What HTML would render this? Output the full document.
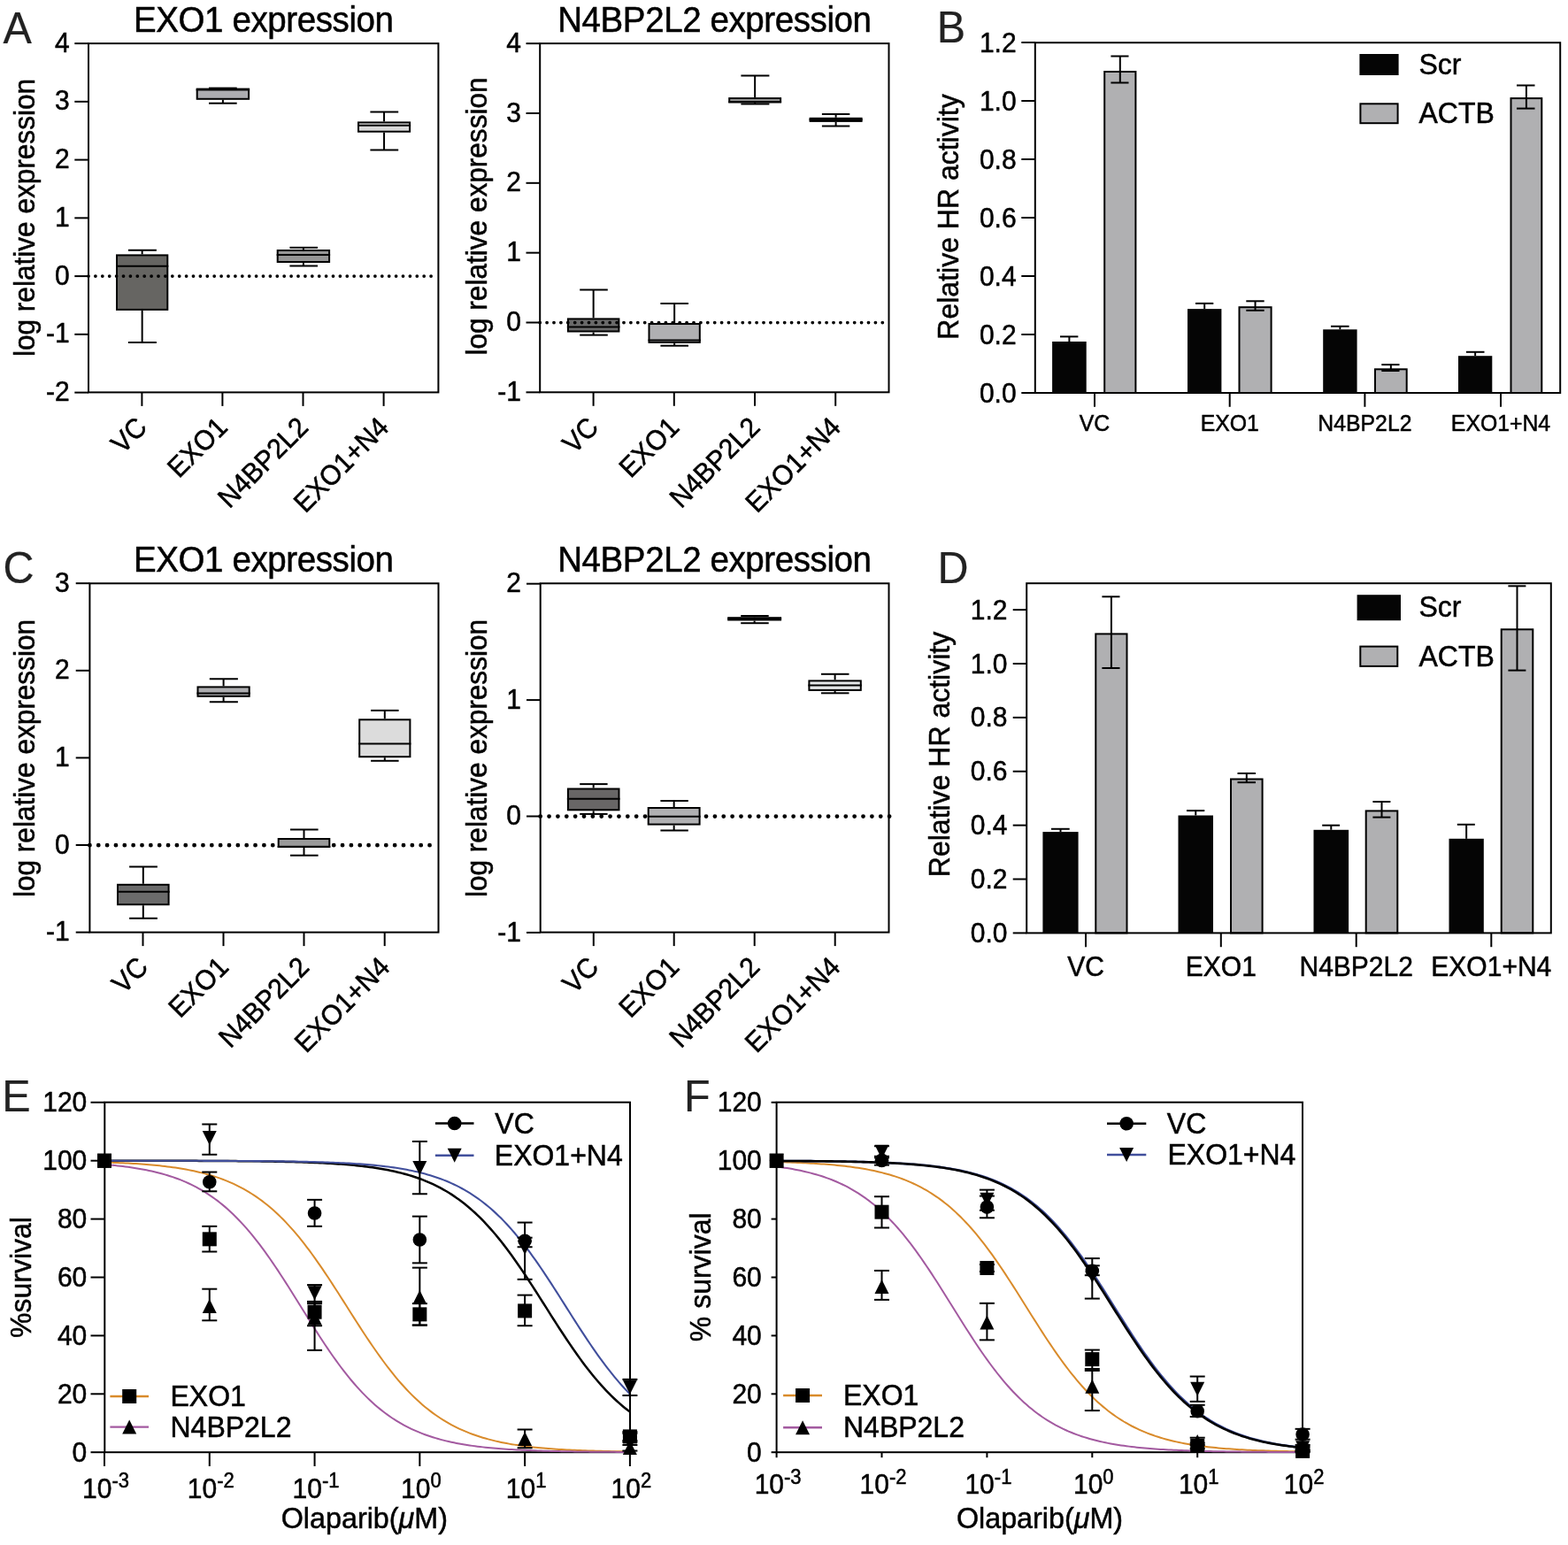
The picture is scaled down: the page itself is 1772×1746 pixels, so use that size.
<!DOCTYPE html>
<html><head><meta charset="utf-8"><title>Figure</title>
<style>html,body{margin:0;padding:0;background:#fff;overflow:hidden}svg{display:block}</style>
</head><body>
<svg width="1772" height="1746" viewBox="0 0 1772 1746" font-family="'Liberation Sans', Arial, Helvetica, sans-serif">
<rect width="1772" height="1746" fill="#fff"/>
<text transform="translate(3.5 48.8) scale(1 1.02)" font-size="48.5" text-anchor="start" fill="#222" stroke="#222" stroke-width="0.2">A</text>
<text transform="translate(1058.8 47.7) scale(1 1.02)" font-size="48.5" text-anchor="start" fill="#222" stroke="#222" stroke-width="0.2">B</text>
<text transform="translate(3.4 659.2) scale(1 1.02)" font-size="48.5" text-anchor="start" fill="#222" stroke="#222" stroke-width="0.2">C</text>
<text transform="translate(1059.6 658.9) scale(1 1.02)" font-size="48.5" text-anchor="start" fill="#222" stroke="#222" stroke-width="0.2">D</text>
<text transform="translate(2.2 1255.6) scale(1 1.02)" font-size="48.5" text-anchor="start" fill="#222" stroke="#222" stroke-width="0.2">E</text>
<text transform="translate(773 1255.6) scale(1 1.02)" font-size="48.5" text-anchor="start" fill="#222" stroke="#222" stroke-width="0.2">F</text>
<rect x="100" y="49.1" width="395.4" height="394.3" fill="none" stroke="#000" stroke-width="2"/>
<line x1="84.3" y1="49.1" x2="100" y2="49.1" stroke="#000" stroke-width="2"/>
<text transform="translate(78.6 58.7) scale(1 1.05)" font-size="30" text-anchor="end" fill="#000" stroke="#000" stroke-width="0.5">4</text>
<line x1="84.3" y1="114.85" x2="100" y2="114.85" stroke="#000" stroke-width="2"/>
<text transform="translate(78.6 124.45) scale(1 1.05)" font-size="30" text-anchor="end" fill="#000" stroke="#000" stroke-width="0.5">3</text>
<line x1="84.3" y1="180.6" x2="100" y2="180.6" stroke="#000" stroke-width="2"/>
<text transform="translate(78.6 190.2) scale(1 1.05)" font-size="30" text-anchor="end" fill="#000" stroke="#000" stroke-width="0.5">2</text>
<line x1="84.3" y1="246.35" x2="100" y2="246.35" stroke="#000" stroke-width="2"/>
<text transform="translate(78.6 255.95) scale(1 1.05)" font-size="30" text-anchor="end" fill="#000" stroke="#000" stroke-width="0.5">1</text>
<line x1="84.3" y1="312.1" x2="100" y2="312.1" stroke="#000" stroke-width="2"/>
<text transform="translate(78.6 321.7) scale(1 1.05)" font-size="30" text-anchor="end" fill="#000" stroke="#000" stroke-width="0.5">0</text>
<line x1="84.3" y1="377.85" x2="100" y2="377.85" stroke="#000" stroke-width="2"/>
<text transform="translate(78.6 387.45) scale(1 1.05)" font-size="30" text-anchor="end" fill="#000" stroke="#000" stroke-width="0.5">-1</text>
<line x1="84.3" y1="443.6" x2="100" y2="443.6" stroke="#000" stroke-width="2"/>
<text transform="translate(78.6 453.2) scale(1 1.05)" font-size="30" text-anchor="end" fill="#000" stroke="#000" stroke-width="0.5">-2</text>
<line x1="160.4" y1="443.4" x2="160.4" y2="458.9" stroke="#000" stroke-width="2"/>
<line x1="251.4" y1="443.4" x2="251.4" y2="458.9" stroke="#000" stroke-width="2"/>
<line x1="342.5" y1="443.4" x2="342.5" y2="458.9" stroke="#000" stroke-width="2"/>
<line x1="433.6" y1="443.4" x2="433.6" y2="458.9" stroke="#000" stroke-width="2"/>
<line x1="160.65" y1="282.7" x2="160.65" y2="287.4" stroke="#000" stroke-width="2"/>
<line x1="160.65" y1="350.9" x2="160.65" y2="387.1" stroke="#000" stroke-width="2"/>
<line x1="144.9" y1="282.7" x2="176.9" y2="282.7" stroke="#000" stroke-width="2"/>
<line x1="144.9" y1="387.1" x2="176.9" y2="387.1" stroke="#000" stroke-width="2"/>
<rect x="132" y="288.4" width="57.3" height="61.5" fill="#666562" stroke="#000" stroke-width="2"/>
<line x1="131" y1="300.8" x2="190.3" y2="300.8" stroke="#000" stroke-width="2"/>
<line x1="251.9" y1="99.6" x2="251.9" y2="99.6" stroke="#000" stroke-width="2"/>
<line x1="251.9" y1="112.8" x2="251.9" y2="116.7" stroke="#000" stroke-width="2"/>
<line x1="236" y1="99.6" x2="267.7" y2="99.6" stroke="#000" stroke-width="2"/>
<line x1="236" y1="116.7" x2="267.7" y2="116.7" stroke="#000" stroke-width="2"/>
<rect x="222.7" y="100.6" width="58.4" height="11.2" fill="#adadb1" stroke="#000" stroke-width="2"/>
<line x1="221.7" y1="101.6" x2="282.1" y2="101.6" stroke="#000" stroke-width="2"/>
<line x1="342.9" y1="279.8" x2="342.9" y2="282" stroke="#000" stroke-width="2"/>
<line x1="342.9" y1="297" x2="342.9" y2="300.5" stroke="#000" stroke-width="2"/>
<line x1="327.4" y1="279.8" x2="359" y2="279.8" stroke="#000" stroke-width="2"/>
<line x1="327.4" y1="300.5" x2="359" y2="300.5" stroke="#000" stroke-width="2"/>
<rect x="313.7" y="283" width="58.4" height="13" fill="#959595" stroke="#000" stroke-width="2"/>
<line x1="312.7" y1="287.9" x2="373.1" y2="287.9" stroke="#000" stroke-width="2"/>
<line x1="434.05" y1="126.5" x2="434.05" y2="137.4" stroke="#000" stroke-width="2"/>
<line x1="434.05" y1="149.7" x2="434.05" y2="169.5" stroke="#000" stroke-width="2"/>
<line x1="418.4" y1="126.5" x2="450.2" y2="126.5" stroke="#000" stroke-width="2"/>
<line x1="418.4" y1="169.5" x2="450.2" y2="169.5" stroke="#000" stroke-width="2"/>
<rect x="405" y="138.4" width="58.1" height="10.3" fill="#d9d9d9" stroke="#000" stroke-width="2"/>
<line x1="404" y1="141.8" x2="464.1" y2="141.8" stroke="#000" stroke-width="2"/>
<line x1="100" y1="312.1" x2="487.15" y2="312.1" stroke="#000" stroke-width="3.8" stroke-linecap="round" stroke-dasharray="0 7.9"/>
<text transform="translate(297.8 35.6) scale(1 1.05)" font-size="38.5" text-anchor="middle" fill="#000" stroke="#000" stroke-width="0.5" letter-spacing="-0.4">EXO1 expression</text>
<text transform="translate(38.7 246) rotate(-90) scale(1 1.05)" font-size="31.6" text-anchor="middle" fill="#000" stroke="#000" stroke-width="0.5">log relative expression</text>
<text transform="translate(167.9 484.6) rotate(-45) scale(1 1.05)" font-size="30" text-anchor="end" fill="#000" stroke="#000" stroke-width="0.5">VC</text>
<text transform="translate(258.9 484.6) rotate(-45) scale(1 1.05)" font-size="30" text-anchor="end" fill="#000" stroke="#000" stroke-width="0.5">EXO1</text>
<text transform="translate(350 484.6) rotate(-45) scale(1 1.05)" font-size="30" text-anchor="end" fill="#000" stroke="#000" stroke-width="0.5">N4BP2L2</text>
<text transform="translate(441.1 484.6) rotate(-45) scale(1 1.05)" font-size="30" text-anchor="end" fill="#000" stroke="#000" stroke-width="0.5">EXO1+N4</text>
<rect x="610.2" y="49.1" width="394.3" height="394.2" fill="none" stroke="#000" stroke-width="2"/>
<line x1="594.5" y1="49.14" x2="610.2" y2="49.14" stroke="#000" stroke-width="2"/>
<text transform="translate(589 58.74) scale(1 1.05)" font-size="30" text-anchor="end" fill="#000" stroke="#000" stroke-width="0.5">4</text>
<line x1="594.5" y1="127.98" x2="610.2" y2="127.98" stroke="#000" stroke-width="2"/>
<text transform="translate(589 137.58) scale(1 1.05)" font-size="30" text-anchor="end" fill="#000" stroke="#000" stroke-width="0.5">3</text>
<line x1="594.5" y1="206.82" x2="610.2" y2="206.82" stroke="#000" stroke-width="2"/>
<text transform="translate(589 216.42) scale(1 1.05)" font-size="30" text-anchor="end" fill="#000" stroke="#000" stroke-width="0.5">2</text>
<line x1="594.5" y1="285.66" x2="610.2" y2="285.66" stroke="#000" stroke-width="2"/>
<text transform="translate(589 295.26) scale(1 1.05)" font-size="30" text-anchor="end" fill="#000" stroke="#000" stroke-width="0.5">1</text>
<line x1="594.5" y1="364.5" x2="610.2" y2="364.5" stroke="#000" stroke-width="2"/>
<text transform="translate(589 374.1) scale(1 1.05)" font-size="30" text-anchor="end" fill="#000" stroke="#000" stroke-width="0.5">0</text>
<line x1="594.5" y1="443.34" x2="610.2" y2="443.34" stroke="#000" stroke-width="2"/>
<text transform="translate(589 452.94) scale(1 1.05)" font-size="30" text-anchor="end" fill="#000" stroke="#000" stroke-width="0.5">-1</text>
<line x1="670.6" y1="443.3" x2="670.6" y2="458.8" stroke="#000" stroke-width="2"/>
<line x1="761.8" y1="443.3" x2="761.8" y2="458.8" stroke="#000" stroke-width="2"/>
<line x1="853" y1="443.3" x2="853" y2="458.8" stroke="#000" stroke-width="2"/>
<line x1="944.2" y1="443.3" x2="944.2" y2="458.8" stroke="#000" stroke-width="2"/>
<line x1="670.65" y1="327.5" x2="670.65" y2="359.4" stroke="#000" stroke-width="2"/>
<line x1="670.65" y1="375.5" x2="670.65" y2="378.6" stroke="#000" stroke-width="2"/>
<line x1="655.2" y1="327.5" x2="686.8" y2="327.5" stroke="#000" stroke-width="2"/>
<line x1="655.2" y1="378.6" x2="686.8" y2="378.6" stroke="#000" stroke-width="2"/>
<rect x="641.9" y="360.4" width="57.5" height="14.1" fill="#6a6a6a" stroke="#000" stroke-width="2"/>
<line x1="640.9" y1="369.6" x2="700.4" y2="369.6" stroke="#000" stroke-width="2"/>
<line x1="762.15" y1="343" x2="762.15" y2="365" stroke="#000" stroke-width="2"/>
<line x1="762.15" y1="387.9" x2="762.15" y2="390.7" stroke="#000" stroke-width="2"/>
<line x1="746.4" y1="343" x2="778" y2="343" stroke="#000" stroke-width="2"/>
<line x1="746.4" y1="390.7" x2="778" y2="390.7" stroke="#000" stroke-width="2"/>
<rect x="733.5" y="366" width="57.3" height="20.9" fill="#b0b0b2" stroke="#000" stroke-width="2"/>
<line x1="732.5" y1="384.5" x2="791.8" y2="384.5" stroke="#000" stroke-width="2"/>
<line x1="853.15" y1="85.5" x2="853.15" y2="110.1" stroke="#000" stroke-width="2"/>
<line x1="853.15" y1="115.9" x2="853.15" y2="117.5" stroke="#000" stroke-width="2"/>
<line x1="837.4" y1="85.5" x2="869.4" y2="85.5" stroke="#000" stroke-width="2"/>
<line x1="837.4" y1="117.5" x2="869.4" y2="117.5" stroke="#000" stroke-width="2"/>
<rect x="824.2" y="111.1" width="57.9" height="3.8" fill="#a0a0a0" stroke="#000" stroke-width="2"/>
<line x1="823.2" y1="115.6" x2="883.1" y2="115.6" stroke="#000" stroke-width="2"/>
<line x1="944.6" y1="128.9" x2="944.6" y2="132.8" stroke="#000" stroke-width="2"/>
<line x1="944.6" y1="137.9" x2="944.6" y2="142.6" stroke="#000" stroke-width="2"/>
<line x1="928.9" y1="128.9" x2="960.3" y2="128.9" stroke="#000" stroke-width="2"/>
<line x1="928.9" y1="142.6" x2="960.3" y2="142.6" stroke="#000" stroke-width="2"/>
<rect x="915.6" y="133.8" width="58" height="3.1" fill="#c8c8c8" stroke="#000" stroke-width="2"/>
<line x1="914.6" y1="135.2" x2="974.6" y2="135.2" stroke="#000" stroke-width="2"/>
<line x1="610.2" y1="364.6" x2="997.35" y2="364.6" stroke="#000" stroke-width="3.8" stroke-linecap="round" stroke-dasharray="0 7.9"/>
<text transform="translate(807.4 35.6) scale(1 1.05)" font-size="38.5" text-anchor="middle" fill="#000" stroke="#000" stroke-width="0.5" letter-spacing="-0.4">N4BP2L2 expression</text>
<text transform="translate(549.9 244.5) rotate(-90) scale(1 1.05)" font-size="31.6" text-anchor="middle" fill="#000" stroke="#000" stroke-width="0.5">log relative expression</text>
<text transform="translate(678.1 484.6) rotate(-45) scale(1 1.05)" font-size="30" text-anchor="end" fill="#000" stroke="#000" stroke-width="0.5">VC</text>
<text transform="translate(769.3 484.6) rotate(-45) scale(1 1.05)" font-size="30" text-anchor="end" fill="#000" stroke="#000" stroke-width="0.5">EXO1</text>
<text transform="translate(860.5 484.6) rotate(-45) scale(1 1.05)" font-size="30" text-anchor="end" fill="#000" stroke="#000" stroke-width="0.5">N4BP2L2</text>
<text transform="translate(951.7 484.6) rotate(-45) scale(1 1.05)" font-size="30" text-anchor="end" fill="#000" stroke="#000" stroke-width="0.5">EXO1+N4</text>
<rect x="101.4" y="659.3" width="394.1" height="394.3" fill="none" stroke="#000" stroke-width="2"/>
<line x1="85.7" y1="659.2" x2="101.4" y2="659.2" stroke="#000" stroke-width="2"/>
<text transform="translate(78.6 668.8) scale(1 1.05)" font-size="30" text-anchor="end" fill="#000" stroke="#000" stroke-width="0.5">3</text>
<line x1="85.7" y1="757.8" x2="101.4" y2="757.8" stroke="#000" stroke-width="2"/>
<text transform="translate(78.6 767.4) scale(1 1.05)" font-size="30" text-anchor="end" fill="#000" stroke="#000" stroke-width="0.5">2</text>
<line x1="85.7" y1="856.4" x2="101.4" y2="856.4" stroke="#000" stroke-width="2"/>
<text transform="translate(78.6 866) scale(1 1.05)" font-size="30" text-anchor="end" fill="#000" stroke="#000" stroke-width="0.5">1</text>
<line x1="85.7" y1="955" x2="101.4" y2="955" stroke="#000" stroke-width="2"/>
<text transform="translate(78.6 964.6) scale(1 1.05)" font-size="30" text-anchor="end" fill="#000" stroke="#000" stroke-width="0.5">0</text>
<line x1="85.7" y1="1053.6" x2="101.4" y2="1053.6" stroke="#000" stroke-width="2"/>
<text transform="translate(78.6 1063.2) scale(1 1.05)" font-size="30" text-anchor="end" fill="#000" stroke="#000" stroke-width="0.5">-1</text>
<line x1="161.5" y1="1053.6" x2="161.5" y2="1069.1" stroke="#000" stroke-width="2"/>
<line x1="252.5" y1="1053.6" x2="252.5" y2="1069.1" stroke="#000" stroke-width="2"/>
<line x1="343.5" y1="1053.6" x2="343.5" y2="1069.1" stroke="#000" stroke-width="2"/>
<line x1="434.7" y1="1053.6" x2="434.7" y2="1069.1" stroke="#000" stroke-width="2"/>
<line x1="101.4" y1="955.2" x2="485.6" y2="955.2" stroke="#000" stroke-width="4.8" stroke-linecap="round" stroke-dasharray="0 9.85"/>
<line x1="161.8" y1="979.5" x2="161.8" y2="998.8" stroke="#000" stroke-width="2"/>
<line x1="161.8" y1="1023.2" x2="161.8" y2="1037.8" stroke="#000" stroke-width="2"/>
<line x1="146.1" y1="979.5" x2="177.9" y2="979.5" stroke="#000" stroke-width="2"/>
<line x1="146.1" y1="1037.8" x2="177.9" y2="1037.8" stroke="#000" stroke-width="2"/>
<rect x="133" y="999.8" width="57.6" height="22.4" fill="#6b6b6b" stroke="#000" stroke-width="2"/>
<line x1="132" y1="1007.7" x2="191.6" y2="1007.7" stroke="#000" stroke-width="2"/>
<line x1="252.6" y1="767.2" x2="252.6" y2="775.4" stroke="#000" stroke-width="2"/>
<line x1="252.6" y1="787.8" x2="252.6" y2="793.3" stroke="#000" stroke-width="2"/>
<line x1="236.8" y1="767.2" x2="268.9" y2="767.2" stroke="#000" stroke-width="2"/>
<line x1="236.8" y1="793.3" x2="268.9" y2="793.3" stroke="#000" stroke-width="2"/>
<rect x="223.5" y="776.4" width="58.2" height="10.4" fill="#adadb0" stroke="#000" stroke-width="2"/>
<line x1="222.5" y1="783.5" x2="282.7" y2="783.5" stroke="#000" stroke-width="2"/>
<line x1="343.5" y1="937.5" x2="343.5" y2="947" stroke="#000" stroke-width="2"/>
<line x1="343.5" y1="957.8" x2="343.5" y2="966.7" stroke="#000" stroke-width="2"/>
<line x1="328" y1="937.5" x2="359.6" y2="937.5" stroke="#000" stroke-width="2"/>
<line x1="328" y1="966.7" x2="359.6" y2="966.7" stroke="#000" stroke-width="2"/>
<rect x="314.7" y="948" width="57.6" height="8.8" fill="#999999" stroke="#000" stroke-width="2"/>
<line x1="313.7" y1="957" x2="373.3" y2="957" stroke="#000" stroke-width="2"/>
<line x1="434.8" y1="802.9" x2="434.8" y2="812.3" stroke="#000" stroke-width="2"/>
<line x1="434.8" y1="856.2" x2="434.8" y2="859.8" stroke="#000" stroke-width="2"/>
<line x1="419.1" y1="802.9" x2="450.6" y2="802.9" stroke="#000" stroke-width="2"/>
<line x1="419.1" y1="859.8" x2="450.6" y2="859.8" stroke="#000" stroke-width="2"/>
<rect x="406.2" y="813.3" width="57.2" height="41.9" fill="#dcdcdc" stroke="#000" stroke-width="2"/>
<line x1="405.2" y1="840.4" x2="464.4" y2="840.4" stroke="#000" stroke-width="2"/>
<text transform="translate(297.8 646.2) scale(1 1.05)" font-size="38.5" text-anchor="middle" fill="#000" stroke="#000" stroke-width="0.5" letter-spacing="-0.4">EXO1 expression</text>
<text transform="translate(38.7 857) rotate(-90) scale(1 1.05)" font-size="31.6" text-anchor="middle" fill="#000" stroke="#000" stroke-width="0.5">log relative expression</text>
<text transform="translate(169 1094.8) rotate(-45) scale(1 1.05)" font-size="30" text-anchor="end" fill="#000" stroke="#000" stroke-width="0.5">VC</text>
<text transform="translate(260 1094.8) rotate(-45) scale(1 1.05)" font-size="30" text-anchor="end" fill="#000" stroke="#000" stroke-width="0.5">EXO1</text>
<text transform="translate(351 1094.8) rotate(-45) scale(1 1.05)" font-size="30" text-anchor="end" fill="#000" stroke="#000" stroke-width="0.5">N4BP2L2</text>
<text transform="translate(442.2 1094.8) rotate(-45) scale(1 1.05)" font-size="30" text-anchor="end" fill="#000" stroke="#000" stroke-width="0.5">EXO1+N4</text>
<rect x="610.7" y="659.3" width="393.8" height="394.3" fill="none" stroke="#000" stroke-width="2"/>
<line x1="595" y1="659.7" x2="610.7" y2="659.7" stroke="#000" stroke-width="2"/>
<text transform="translate(589 669.3) scale(1 1.05)" font-size="30" text-anchor="end" fill="#000" stroke="#000" stroke-width="0.5">2</text>
<line x1="595" y1="791.1" x2="610.7" y2="791.1" stroke="#000" stroke-width="2"/>
<text transform="translate(589 800.7) scale(1 1.05)" font-size="30" text-anchor="end" fill="#000" stroke="#000" stroke-width="0.5">1</text>
<line x1="595" y1="922.5" x2="610.7" y2="922.5" stroke="#000" stroke-width="2"/>
<text transform="translate(589 932.1) scale(1 1.05)" font-size="30" text-anchor="end" fill="#000" stroke="#000" stroke-width="0.5">0</text>
<line x1="595" y1="1053.9" x2="610.7" y2="1053.9" stroke="#000" stroke-width="2"/>
<text transform="translate(589 1063.5) scale(1 1.05)" font-size="30" text-anchor="end" fill="#000" stroke="#000" stroke-width="0.5">-1</text>
<line x1="670.8" y1="1053.6" x2="670.8" y2="1069.1" stroke="#000" stroke-width="2"/>
<line x1="761.7" y1="1053.6" x2="761.7" y2="1069.1" stroke="#000" stroke-width="2"/>
<line x1="852.7" y1="1053.6" x2="852.7" y2="1069.1" stroke="#000" stroke-width="2"/>
<line x1="943.7" y1="1053.6" x2="943.7" y2="1069.1" stroke="#000" stroke-width="2"/>
<line x1="610.7" y1="922.6" x2="1005.15" y2="922.6" stroke="#000" stroke-width="4.8" stroke-linecap="round" stroke-dasharray="0 9.86"/>
<line x1="670.7" y1="886.1" x2="670.7" y2="890.5" stroke="#000" stroke-width="2"/>
<line x1="670.7" y1="916.3" x2="670.7" y2="919.9" stroke="#000" stroke-width="2"/>
<line x1="655.2" y1="886.1" x2="686.6" y2="886.1" stroke="#000" stroke-width="2"/>
<line x1="655.2" y1="919.9" x2="686.6" y2="919.9" stroke="#000" stroke-width="2"/>
<rect x="641.9" y="891.5" width="57.6" height="23.8" fill="#686666" stroke="#000" stroke-width="2"/>
<line x1="640.9" y1="902.7" x2="700.5" y2="902.7" stroke="#000" stroke-width="2"/>
<line x1="761.65" y1="905" x2="761.65" y2="912" stroke="#000" stroke-width="2"/>
<line x1="761.65" y1="932.6" x2="761.65" y2="938.5" stroke="#000" stroke-width="2"/>
<line x1="746.4" y1="905" x2="777.8" y2="905" stroke="#000" stroke-width="2"/>
<line x1="746.4" y1="938.5" x2="777.8" y2="938.5" stroke="#000" stroke-width="2"/>
<rect x="732.7" y="913" width="57.9" height="18.6" fill="#b0b0b2" stroke="#000" stroke-width="2"/>
<line x1="731.7" y1="922.8" x2="791.6" y2="922.8" stroke="#000" stroke-width="2"/>
<line x1="852.65" y1="696" x2="852.65" y2="697.2" stroke="#000" stroke-width="2"/>
<line x1="852.65" y1="701.5" x2="852.65" y2="704.2" stroke="#000" stroke-width="2"/>
<line x1="837.2" y1="696" x2="868.7" y2="696" stroke="#000" stroke-width="2"/>
<line x1="837.2" y1="704.2" x2="868.7" y2="704.2" stroke="#000" stroke-width="2"/>
<rect x="823.2" y="698.2" width="58.9" height="2.3" fill="#333333" stroke="#000" stroke-width="2"/>
<line x1="822.2" y1="699.2" x2="883.1" y2="699.2" stroke="#000" stroke-width="2"/>
<line x1="943.6" y1="761.8" x2="943.6" y2="768.4" stroke="#000" stroke-width="2"/>
<line x1="943.6" y1="780.9" x2="943.6" y2="783.3" stroke="#000" stroke-width="2"/>
<line x1="928" y1="761.8" x2="959.5" y2="761.8" stroke="#000" stroke-width="2"/>
<line x1="928" y1="783.3" x2="959.5" y2="783.3" stroke="#000" stroke-width="2"/>
<rect x="914.4" y="769.4" width="58.4" height="10.5" fill="#e4e6e8" stroke="#000" stroke-width="2"/>
<line x1="913.4" y1="774.5" x2="973.8" y2="774.5" stroke="#000" stroke-width="2"/>
<text transform="translate(807.4 646.2) scale(1 1.05)" font-size="38.5" text-anchor="middle" fill="#000" stroke="#000" stroke-width="0.5" letter-spacing="-0.4">N4BP2L2 expression</text>
<text transform="translate(549.9 857) rotate(-90) scale(1 1.05)" font-size="31.6" text-anchor="middle" fill="#000" stroke="#000" stroke-width="0.5">log relative expression</text>
<text transform="translate(678.3 1094.8) rotate(-45) scale(1 1.05)" font-size="30" text-anchor="end" fill="#000" stroke="#000" stroke-width="0.5">VC</text>
<text transform="translate(769.2 1094.8) rotate(-45) scale(1 1.05)" font-size="30" text-anchor="end" fill="#000" stroke="#000" stroke-width="0.5">EXO1</text>
<text transform="translate(860.2 1094.8) rotate(-45) scale(1 1.05)" font-size="30" text-anchor="end" fill="#000" stroke="#000" stroke-width="0.5">N4BP2L2</text>
<text transform="translate(951.2 1094.8) rotate(-45) scale(1 1.05)" font-size="30" text-anchor="end" fill="#000" stroke="#000" stroke-width="0.5">EXO1+N4</text>
<line x1="1154.3" y1="444" x2="1169.8" y2="444" stroke="#000" stroke-width="2"/>
<text transform="translate(1148.6 454.5) scale(1 1.05)" font-size="30" text-anchor="end" fill="#000" stroke="#000" stroke-width="0.5">0.0</text>
<line x1="1154.3" y1="378" x2="1169.8" y2="378" stroke="#000" stroke-width="2"/>
<text transform="translate(1148.6 388.5) scale(1 1.05)" font-size="30" text-anchor="end" fill="#000" stroke="#000" stroke-width="0.5">0.2</text>
<line x1="1154.3" y1="312" x2="1169.8" y2="312" stroke="#000" stroke-width="2"/>
<text transform="translate(1148.6 322.5) scale(1 1.05)" font-size="30" text-anchor="end" fill="#000" stroke="#000" stroke-width="0.5">0.4</text>
<line x1="1154.3" y1="246" x2="1169.8" y2="246" stroke="#000" stroke-width="2"/>
<text transform="translate(1148.6 256.5) scale(1 1.05)" font-size="30" text-anchor="end" fill="#000" stroke="#000" stroke-width="0.5">0.6</text>
<line x1="1154.3" y1="180" x2="1169.8" y2="180" stroke="#000" stroke-width="2"/>
<text transform="translate(1148.6 190.5) scale(1 1.05)" font-size="30" text-anchor="end" fill="#000" stroke="#000" stroke-width="0.5">0.8</text>
<line x1="1154.3" y1="114" x2="1169.8" y2="114" stroke="#000" stroke-width="2"/>
<text transform="translate(1148.6 124.5) scale(1 1.05)" font-size="30" text-anchor="end" fill="#000" stroke="#000" stroke-width="0.5">1.0</text>
<line x1="1154.3" y1="48" x2="1169.8" y2="48" stroke="#000" stroke-width="2"/>
<text transform="translate(1148.6 58.5) scale(1 1.05)" font-size="30" text-anchor="end" fill="#000" stroke="#000" stroke-width="0.5">1.2</text>
<line x1="1237" y1="444" x2="1237" y2="459.8" stroke="#000" stroke-width="2"/>
<line x1="1389.7" y1="444" x2="1389.7" y2="459.8" stroke="#000" stroke-width="2"/>
<line x1="1542.4" y1="444" x2="1542.4" y2="459.8" stroke="#000" stroke-width="2"/>
<line x1="1696" y1="444" x2="1696" y2="459.8" stroke="#000" stroke-width="2"/>
<rect x="1189.1" y="386" width="38.6" height="58" fill="#050505" stroke="none" stroke-width="0"/>
<line x1="1208.4" y1="380.4" x2="1208.4" y2="386" stroke="#000" stroke-width="2"/>
<line x1="1198" y1="380.4" x2="1218.4" y2="380.4" stroke="#000" stroke-width="2"/>
<rect x="1248.2" y="81" width="35.2" height="363" fill="#b0b0b2" stroke="#000" stroke-width="2"/>
<line x1="1265.8" y1="63.5" x2="1265.8" y2="93.5" stroke="#000" stroke-width="2"/>
<line x1="1255.4" y1="63.5" x2="1275.5" y2="63.5" stroke="#000" stroke-width="2"/>
<line x1="1255.4" y1="93.5" x2="1275.5" y2="93.5" stroke="#000" stroke-width="2"/>
<rect x="1342" y="349.1" width="38.4" height="94.9" fill="#050505" stroke="none" stroke-width="0"/>
<line x1="1361.2" y1="342.9" x2="1361.2" y2="349.1" stroke="#000" stroke-width="2"/>
<line x1="1351" y1="342.9" x2="1371.3" y2="342.9" stroke="#000" stroke-width="2"/>
<rect x="1400.5" y="347.2" width="36.1" height="96.8" fill="#b0b0b2" stroke="#000" stroke-width="2"/>
<line x1="1418.55" y1="340.3" x2="1418.55" y2="350.8" stroke="#000" stroke-width="2"/>
<line x1="1408.3" y1="340.3" x2="1428.7" y2="340.3" stroke="#000" stroke-width="2"/>
<line x1="1408.3" y1="350.8" x2="1428.7" y2="350.8" stroke="#000" stroke-width="2"/>
<rect x="1495.2" y="372.3" width="38.4" height="71.7" fill="#050505" stroke="none" stroke-width="0"/>
<line x1="1514.4" y1="368.8" x2="1514.4" y2="372.3" stroke="#000" stroke-width="2"/>
<line x1="1504" y1="368.8" x2="1524.6" y2="368.8" stroke="#000" stroke-width="2"/>
<rect x="1554" y="417.3" width="35.7" height="26.7" fill="#b0b0b2" stroke="#000" stroke-width="2"/>
<line x1="1571.85" y1="412.1" x2="1571.85" y2="419" stroke="#000" stroke-width="2"/>
<line x1="1561.3" y1="412.1" x2="1581.5" y2="412.1" stroke="#000" stroke-width="2"/>
<line x1="1561.3" y1="419" x2="1581.5" y2="419" stroke="#000" stroke-width="2"/>
<rect x="1648" y="402.2" width="38.3" height="41.8" fill="#050505" stroke="none" stroke-width="0"/>
<line x1="1667.15" y1="397.8" x2="1667.15" y2="402.2" stroke="#000" stroke-width="2"/>
<line x1="1656.9" y1="397.8" x2="1677.5" y2="397.8" stroke="#000" stroke-width="2"/>
<rect x="1707.5" y="111.1" width="34.8" height="332.9" fill="#b0b0b2" stroke="#000" stroke-width="2"/>
<line x1="1724.9" y1="96.5" x2="1724.9" y2="122.6" stroke="#000" stroke-width="2"/>
<line x1="1714" y1="96.5" x2="1734.5" y2="96.5" stroke="#000" stroke-width="2"/>
<line x1="1714" y1="122.6" x2="1734.5" y2="122.6" stroke="#000" stroke-width="2"/>
<rect x="1169.8" y="48.2" width="593.4" height="395.8" fill="none" stroke="#000" stroke-width="2"/>
<text transform="translate(1237 486.6) scale(1 1.05)" font-size="24.8" text-anchor="middle" fill="#000" stroke="#000" stroke-width="0.5">VC</text>
<text transform="translate(1389.7 486.6) scale(1 1.05)" font-size="24.8" text-anchor="middle" fill="#000" stroke="#000" stroke-width="0.5">EXO1</text>
<text transform="translate(1542.4 486.6) scale(1 1.05)" font-size="24.8" text-anchor="middle" fill="#000" stroke="#000" stroke-width="0.5">N4BP2L2</text>
<text transform="translate(1696 486.6) scale(1 1.05)" font-size="24.8" text-anchor="middle" fill="#000" stroke="#000" stroke-width="0.5">EXO1+N4</text>
<rect x="1536.4" y="61" width="44.2" height="24" fill="#050505" stroke="none" stroke-width="0"/>
<rect x="1537.4" y="117.3" width="42.2" height="21.9" fill="#b0b0b2" stroke="#000" stroke-width="2"/>
<text transform="translate(1603.5 83.7) scale(1 1.05)" font-size="32" text-anchor="start" fill="#000" stroke="#000" stroke-width="0.5">Scr</text>
<text transform="translate(1603.5 139) scale(1 1.05)" font-size="32" text-anchor="start" fill="#000" stroke="#000" stroke-width="0.5">ACTB</text>
<text transform="translate(1082.7 245) rotate(-90) scale(1 1.05)" font-size="32" text-anchor="middle" fill="#000" stroke="#000" stroke-width="0.5">Relative HR activity</text>
<line x1="1144.7" y1="1054.4" x2="1160.2" y2="1054.4" stroke="#000" stroke-width="2"/>
<text transform="translate(1138.4 1064.9) scale(1 1.05)" font-size="30" text-anchor="end" fill="#000" stroke="#000" stroke-width="0.5">0.0</text>
<line x1="1144.7" y1="993.52" x2="1160.2" y2="993.52" stroke="#000" stroke-width="2"/>
<text transform="translate(1138.4 1004.02) scale(1 1.05)" font-size="30" text-anchor="end" fill="#000" stroke="#000" stroke-width="0.5">0.2</text>
<line x1="1144.7" y1="932.64" x2="1160.2" y2="932.64" stroke="#000" stroke-width="2"/>
<text transform="translate(1138.4 943.14) scale(1 1.05)" font-size="30" text-anchor="end" fill="#000" stroke="#000" stroke-width="0.5">0.4</text>
<line x1="1144.7" y1="871.76" x2="1160.2" y2="871.76" stroke="#000" stroke-width="2"/>
<text transform="translate(1138.4 882.26) scale(1 1.05)" font-size="30" text-anchor="end" fill="#000" stroke="#000" stroke-width="0.5">0.6</text>
<line x1="1144.7" y1="810.88" x2="1160.2" y2="810.88" stroke="#000" stroke-width="2"/>
<text transform="translate(1138.4 821.38) scale(1 1.05)" font-size="30" text-anchor="end" fill="#000" stroke="#000" stroke-width="0.5">0.8</text>
<line x1="1144.7" y1="750" x2="1160.2" y2="750" stroke="#000" stroke-width="2"/>
<text transform="translate(1138.4 760.5) scale(1 1.05)" font-size="30" text-anchor="end" fill="#000" stroke="#000" stroke-width="0.5">1.0</text>
<line x1="1144.7" y1="689.12" x2="1160.2" y2="689.12" stroke="#000" stroke-width="2"/>
<text transform="translate(1138.4 699.62) scale(1 1.05)" font-size="30" text-anchor="end" fill="#000" stroke="#000" stroke-width="0.5">1.2</text>
<line x1="1227" y1="1054.4" x2="1227" y2="1070.2" stroke="#000" stroke-width="2"/>
<line x1="1379.8" y1="1054.4" x2="1379.8" y2="1070.2" stroke="#000" stroke-width="2"/>
<line x1="1532.7" y1="1054.4" x2="1532.7" y2="1070.2" stroke="#000" stroke-width="2"/>
<line x1="1685.3" y1="1054.4" x2="1685.3" y2="1070.2" stroke="#000" stroke-width="2"/>
<rect x="1178.4" y="940.1" width="40.2" height="114.3" fill="#050505" stroke="none" stroke-width="0"/>
<line x1="1198.5" y1="936.8" x2="1198.5" y2="940.1" stroke="#000" stroke-width="2"/>
<line x1="1188" y1="936.8" x2="1208.7" y2="936.8" stroke="#000" stroke-width="2"/>
<rect x="1238.3" y="716.4" width="35.2" height="338" fill="#b0b0b2" stroke="#000" stroke-width="2"/>
<line x1="1255.9" y1="674.3" x2="1255.9" y2="755" stroke="#000" stroke-width="2"/>
<line x1="1245.4" y1="674.3" x2="1265.5" y2="674.3" stroke="#000" stroke-width="2"/>
<line x1="1245.4" y1="755" x2="1265.5" y2="755" stroke="#000" stroke-width="2"/>
<rect x="1331.5" y="921.5" width="39.5" height="132.9" fill="#050505" stroke="none" stroke-width="0"/>
<line x1="1351.25" y1="916.1" x2="1351.25" y2="921.5" stroke="#000" stroke-width="2"/>
<line x1="1341" y1="916.1" x2="1361.3" y2="916.1" stroke="#000" stroke-width="2"/>
<rect x="1391" y="880.5" width="35.6" height="173.9" fill="#b0b0b2" stroke="#000" stroke-width="2"/>
<line x1="1408.8" y1="874" x2="1408.8" y2="884.2" stroke="#000" stroke-width="2"/>
<line x1="1398.5" y1="874" x2="1419" y2="874" stroke="#000" stroke-width="2"/>
<line x1="1398.5" y1="884.2" x2="1419" y2="884.2" stroke="#000" stroke-width="2"/>
<rect x="1484.5" y="937.8" width="39.6" height="116.6" fill="#050505" stroke="none" stroke-width="0"/>
<line x1="1504.3" y1="932.7" x2="1504.3" y2="937.8" stroke="#000" stroke-width="2"/>
<line x1="1494.2" y1="932.7" x2="1514.1" y2="932.7" stroke="#000" stroke-width="2"/>
<rect x="1543.7" y="916.4" width="35.6" height="138" fill="#b0b0b2" stroke="#000" stroke-width="2"/>
<line x1="1561.5" y1="906" x2="1561.5" y2="923.6" stroke="#000" stroke-width="2"/>
<line x1="1551.4" y1="906" x2="1571.4" y2="906" stroke="#000" stroke-width="2"/>
<line x1="1551.4" y1="923.6" x2="1571.4" y2="923.6" stroke="#000" stroke-width="2"/>
<rect x="1637.5" y="947.8" width="39.3" height="106.6" fill="#050505" stroke="none" stroke-width="0"/>
<line x1="1657.15" y1="931.8" x2="1657.15" y2="947.8" stroke="#000" stroke-width="2"/>
<line x1="1646.8" y1="931.8" x2="1666.8" y2="931.8" stroke="#000" stroke-width="2"/>
<rect x="1696.7" y="711.3" width="35.6" height="343.1" fill="#b0b0b2" stroke="#000" stroke-width="2"/>
<line x1="1714.5" y1="662.3" x2="1714.5" y2="757.6" stroke="#000" stroke-width="2"/>
<line x1="1704.4" y1="662.3" x2="1724.4" y2="662.3" stroke="#000" stroke-width="2"/>
<line x1="1704.4" y1="757.6" x2="1724.4" y2="757.6" stroke="#000" stroke-width="2"/>
<rect x="1160.2" y="659.2" width="592.6" height="395.2" fill="none" stroke="#000" stroke-width="2"/>
<text transform="translate(1227 1102.6) scale(1 1.05)" font-size="30" text-anchor="middle" fill="#000" stroke="#000" stroke-width="0.5">VC</text>
<text transform="translate(1379.8 1102.6) scale(1 1.05)" font-size="30" text-anchor="middle" fill="#000" stroke="#000" stroke-width="0.5">EXO1</text>
<text transform="translate(1532.7 1102.6) scale(1 1.05)" font-size="30" text-anchor="middle" fill="#000" stroke="#000" stroke-width="0.5">N4BP2L2</text>
<text transform="translate(1685.3 1102.6) scale(1 1.05)" font-size="30" text-anchor="middle" fill="#000" stroke="#000" stroke-width="0.5">EXO1+N4</text>
<rect x="1533.6" y="672.2" width="49.4" height="29" fill="#050505" stroke="none" stroke-width="0"/>
<rect x="1537.3" y="730.6" width="42" height="22.3" fill="#b0b0b2" stroke="#000" stroke-width="2"/>
<text transform="translate(1603.5 697.2) scale(1 1.05)" font-size="32" text-anchor="start" fill="#000" stroke="#000" stroke-width="0.5">Scr</text>
<text transform="translate(1603.5 752.7) scale(1 1.05)" font-size="32" text-anchor="start" fill="#000" stroke="#000" stroke-width="0.5">ACTB</text>
<text transform="translate(1072.5 852.5) rotate(-90) scale(1 1.05)" font-size="32" text-anchor="middle" fill="#000" stroke="#000" stroke-width="0.5">Relative HR activity</text>
<rect x="118.3" y="1245.7" width="593.7" height="395.5" fill="none" stroke="#000" stroke-width="2"/>
<line x1="102.5" y1="1641.2" x2="118.3" y2="1641.2" stroke="#000" stroke-width="2"/>
<text transform="translate(98.3 1651.8) scale(1 1.05)" font-size="30" text-anchor="end" fill="#000" stroke="#000" stroke-width="0.5">0</text>
<line x1="102.5" y1="1575.3" x2="118.3" y2="1575.3" stroke="#000" stroke-width="2"/>
<text transform="translate(98.3 1585.9) scale(1 1.05)" font-size="30" text-anchor="end" fill="#000" stroke="#000" stroke-width="0.5">20</text>
<line x1="102.5" y1="1509.4" x2="118.3" y2="1509.4" stroke="#000" stroke-width="2"/>
<text transform="translate(98.3 1520) scale(1 1.05)" font-size="30" text-anchor="end" fill="#000" stroke="#000" stroke-width="0.5">40</text>
<line x1="102.5" y1="1443.5" x2="118.3" y2="1443.5" stroke="#000" stroke-width="2"/>
<text transform="translate(98.3 1454.1) scale(1 1.05)" font-size="30" text-anchor="end" fill="#000" stroke="#000" stroke-width="0.5">60</text>
<line x1="102.5" y1="1377.6" x2="118.3" y2="1377.6" stroke="#000" stroke-width="2"/>
<text transform="translate(98.3 1388.2) scale(1 1.05)" font-size="30" text-anchor="end" fill="#000" stroke="#000" stroke-width="0.5">80</text>
<line x1="102.5" y1="1311.7" x2="118.3" y2="1311.7" stroke="#000" stroke-width="2"/>
<text transform="translate(98.3 1322.3) scale(1 1.05)" font-size="30" text-anchor="end" fill="#000" stroke="#000" stroke-width="0.5">100</text>
<line x1="102.5" y1="1245.8" x2="118.3" y2="1245.8" stroke="#000" stroke-width="2"/>
<text transform="translate(98.3 1256.4) scale(1 1.05)" font-size="30" text-anchor="end" fill="#000" stroke="#000" stroke-width="0.5">120</text>
<line x1="118" y1="1641.2" x2="118" y2="1657" stroke="#000" stroke-width="2"/>
<text transform="translate(119.5 1693) scale(1 1.05)" font-size="30" text-anchor="middle" fill="#000" stroke="#000" stroke-width="0.5">10<tspan font-size="22" dy="-11.43">-3</tspan></text>
<line x1="236.78" y1="1641.2" x2="236.78" y2="1657" stroke="#000" stroke-width="2"/>
<text transform="translate(238.28 1693) scale(1 1.05)" font-size="30" text-anchor="middle" fill="#000" stroke="#000" stroke-width="0.5">10<tspan font-size="22" dy="-11.43">-2</tspan></text>
<line x1="355.56" y1="1641.2" x2="355.56" y2="1657" stroke="#000" stroke-width="2"/>
<text transform="translate(357.06 1693) scale(1 1.05)" font-size="30" text-anchor="middle" fill="#000" stroke="#000" stroke-width="0.5">10<tspan font-size="22" dy="-11.43">-1</tspan></text>
<line x1="474.34" y1="1641.2" x2="474.34" y2="1657" stroke="#000" stroke-width="2"/>
<text transform="translate(475.84 1693) scale(1 1.05)" font-size="30" text-anchor="middle" fill="#000" stroke="#000" stroke-width="0.5">10<tspan font-size="22" dy="-11.43">0</tspan></text>
<line x1="593.12" y1="1641.2" x2="593.12" y2="1657" stroke="#000" stroke-width="2"/>
<text transform="translate(594.62 1693) scale(1 1.05)" font-size="30" text-anchor="middle" fill="#000" stroke="#000" stroke-width="0.5">10<tspan font-size="22" dy="-11.43">1</tspan></text>
<line x1="711.9" y1="1641.2" x2="711.9" y2="1657" stroke="#000" stroke-width="2"/>
<text transform="translate(713.4 1693) scale(1 1.05)" font-size="30" text-anchor="middle" fill="#000" stroke="#000" stroke-width="0.5">10<tspan font-size="22" dy="-11.43">2</tspan></text>
<polyline points="118,1313.44 120.97,1313.54 123.94,1313.64 126.91,1313.76 129.88,1313.88 132.85,1314 135.82,1314.14 138.79,1314.28 141.76,1314.43 144.73,1314.58 147.69,1314.75 150.66,1314.93 153.63,1315.12 156.6,1315.31 159.57,1315.52 162.54,1315.74 165.51,1315.98 168.48,1316.22 171.45,1316.48 174.42,1316.76 177.39,1317.05 180.36,1317.36 183.33,1317.68 186.3,1318.02 189.27,1318.39 192.24,1318.77 195.21,1319.17 198.18,1319.6 201.15,1320.05 204.12,1320.52 207.09,1321.02 210.05,1321.55 213.02,1322.11 215.99,1322.7 218.96,1323.32 221.93,1323.97 224.9,1324.66 227.87,1325.39 230.84,1326.15 233.81,1326.96 236.78,1327.81 239.75,1328.7 242.72,1329.64 245.69,1330.63 248.66,1331.67 251.63,1332.76 254.6,1333.91 257.57,1335.12 260.54,1336.38 263.51,1337.71 266.48,1339.11 269.44,1340.57 272.41,1342.1 275.38,1343.71 278.35,1345.39 281.32,1347.14 284.29,1348.98 287.26,1350.9 290.23,1352.91 293.2,1355 296.17,1357.18 299.14,1359.45 302.11,1361.82 305.08,1364.28 308.05,1366.84 311.02,1369.5 313.99,1372.26 316.96,1375.12 319.93,1378.08 322.9,1381.14 325.87,1384.31 328.83,1387.57 331.8,1390.94 334.77,1394.41 337.74,1397.98 340.71,1401.65 343.68,1405.41 346.65,1409.27 349.62,1413.22 352.59,1417.25 355.56,1421.37 358.53,1425.56 361.5,1429.83 364.47,1434.17 367.44,1438.57 370.41,1443.03 373.38,1447.55 376.35,1452.11 379.32,1456.7 382.29,1461.33 385.25,1465.98 388.22,1470.65 391.19,1475.33 394.16,1480.01 397.13,1484.68 400.1,1489.34 403.07,1493.98 406.04,1498.59 409.01,1503.17 411.98,1507.71 414.95,1512.19 417.92,1516.62 420.89,1520.99 423.86,1525.3 426.83,1529.53 429.8,1533.68 432.77,1537.76 435.74,1541.75 438.71,1545.65 441.68,1549.46 444.64,1553.17 447.61,1556.79 450.58,1560.3 453.55,1563.72 456.52,1567.04 459.49,1570.25 462.46,1573.36 465.43,1576.37 468.4,1579.28 471.37,1582.09 474.34,1584.79 477.31,1587.4 480.28,1589.91 483.25,1592.32 486.22,1594.64 489.19,1596.87 492.16,1599 495.13,1601.05 498.1,1603.01 501.07,1604.88 504.04,1606.68 507,1608.4 509.97,1610.04 512.94,1611.6 515.91,1613.1 518.88,1614.53 521.85,1615.89 524.82,1617.18 527.79,1618.42 530.76,1619.59 533.73,1620.71 536.7,1621.78 539.67,1622.79 542.64,1623.75 545.61,1624.67 548.58,1625.54 551.55,1626.36 554.52,1627.15 557.49,1627.89 560.46,1628.6 563.42,1629.27 566.39,1629.91 569.36,1630.51 572.33,1631.08 575.3,1631.63 578.27,1632.14 581.24,1632.63 584.21,1633.09 587.18,1633.53 590.15,1633.94 593.12,1634.33 596.09,1634.71 599.06,1635.06 602.03,1635.39 605,1635.71 607.97,1636 610.94,1636.29 613.91,1636.55 616.88,1636.81 619.85,1637.05 622.82,1637.27 625.78,1637.49 628.75,1637.69 631.72,1637.88 634.69,1638.06 637.66,1638.24 640.63,1638.4 643.6,1638.55 646.57,1638.7 649.54,1638.83 652.51,1638.96 655.48,1639.09 658.45,1639.2 661.42,1639.31 664.39,1639.42 667.36,1639.51 670.33,1639.61 673.3,1639.69 676.27,1639.78 679.24,1639.86 682.21,1639.93 685.17,1640 688.14,1640.07 691.11,1640.13 694.08,1640.19 697.05,1640.24 700.02,1640.3 702.99,1640.35 705.96,1640.39 708.93,1640.44 711.9,1640.48" fill="none" stroke="#d98b2b" stroke-width="2" stroke-linejoin="round"/>
<polyline points="118,1315.98 120.97,1316.23 123.94,1316.49 126.91,1316.78 129.88,1317.07 132.85,1317.39 135.82,1317.72 138.79,1318.08 141.76,1318.45 144.73,1318.84 147.69,1319.26 150.66,1319.7 153.63,1320.16 156.6,1320.66 159.57,1321.17 162.54,1321.72 165.51,1322.3 168.48,1322.91 171.45,1323.56 174.42,1324.24 177.39,1324.96 180.36,1325.71 183.33,1326.51 186.3,1327.36 189.27,1328.24 192.24,1329.18 195.21,1330.16 198.18,1331.2 201.15,1332.29 204.12,1333.44 207.09,1334.64 210.05,1335.91 213.02,1337.25 215.99,1338.65 218.96,1340.12 221.93,1341.66 224.9,1343.27 227.87,1344.97 230.84,1346.74 233.81,1348.6 236.78,1350.54 239.75,1352.57 242.72,1354.69 245.69,1356.91 248.66,1359.22 251.63,1361.62 254.6,1364.13 257.57,1366.73 260.54,1369.44 263.51,1372.26 266.48,1375.17 269.44,1378.2 272.41,1381.33 275.38,1384.56 278.35,1387.91 281.32,1391.36 284.29,1394.91 287.26,1398.57 290.23,1402.32 293.2,1406.18 296.17,1410.14 299.14,1414.18 302.11,1418.32 305.08,1422.54 308.05,1426.85 311.02,1431.23 313.99,1435.68 316.96,1440.19 319.93,1444.76 322.9,1449.38 325.87,1454.05 328.83,1458.76 331.8,1463.49 334.77,1468.24 337.74,1473.01 340.71,1477.79 343.68,1482.56 346.65,1487.32 349.62,1492.07 352.59,1496.78 355.56,1501.47 358.53,1506.11 361.5,1510.71 364.47,1515.25 367.44,1519.72 370.41,1524.13 373.38,1528.47 376.35,1532.73 379.32,1536.91 382.29,1540.99 385.25,1544.99 388.22,1548.89 391.19,1552.69 394.16,1556.39 397.13,1559.99 400.1,1563.49 403.07,1566.88 406.04,1570.16 409.01,1573.34 411.98,1576.41 414.95,1579.37 417.92,1582.23 420.89,1584.99 423.86,1587.64 426.83,1590.19 429.8,1592.64 432.77,1594.99 435.74,1597.24 438.71,1599.41 441.68,1601.48 444.64,1603.46 447.61,1605.35 450.58,1607.16 453.55,1608.89 456.52,1610.54 459.49,1612.11 462.46,1613.62 465.43,1615.05 468.4,1616.41 471.37,1617.7 474.34,1618.94 477.31,1620.11 480.28,1621.23 483.25,1622.29 486.22,1623.3 489.19,1624.25 492.16,1625.16 495.13,1626.02 498.1,1626.84 501.07,1627.61 504.04,1628.35 507,1629.05 509.97,1629.71 512.94,1630.33 515.91,1630.93 518.88,1631.49 521.85,1632.02 524.82,1632.52 527.79,1633 530.76,1633.45 533.73,1633.88 536.7,1634.28 539.67,1634.66 542.64,1635.02 545.61,1635.37 548.58,1635.69 551.55,1635.99 554.52,1636.28 557.49,1636.56 560.46,1636.81 563.42,1637.06 566.39,1637.29 569.36,1637.51 572.33,1637.71 575.3,1637.91 578.27,1638.09 581.24,1638.26 584.21,1638.43 587.18,1638.58 590.15,1638.73 593.12,1638.87 596.09,1639 599.06,1639.12 602.03,1639.24 605,1639.35 607.97,1639.45 610.94,1639.55 613.91,1639.64 616.88,1639.73 619.85,1639.81 622.82,1639.89 625.78,1639.96 628.75,1640.03 631.72,1640.1 634.69,1640.16 637.66,1640.22 640.63,1640.27 643.6,1640.33 646.57,1640.37 649.54,1640.42 652.51,1640.46 655.48,1640.51 658.45,1640.55 661.42,1640.58 664.39,1640.62 667.36,1640.65 670.33,1640.68 673.3,1640.71 676.27,1640.74 679.24,1640.76 682.21,1640.79 685.17,1640.81 688.14,1640.83 691.11,1640.85 694.08,1640.87 697.05,1640.89 700.02,1640.91 702.99,1640.93 705.96,1640.94 708.93,1640.96 711.9,1640.97" fill="none" stroke="#a35aa0" stroke-width="2" stroke-linejoin="round"/>
<polyline points="118,1311.72 120.97,1311.72 123.94,1311.73 126.91,1311.73 129.88,1311.73 132.85,1311.73 135.82,1311.73 138.79,1311.74 141.76,1311.74 144.73,1311.74 147.69,1311.74 150.66,1311.74 153.63,1311.75 156.6,1311.75 159.57,1311.75 162.54,1311.76 165.51,1311.76 168.48,1311.76 171.45,1311.77 174.42,1311.77 177.39,1311.77 180.36,1311.78 183.33,1311.78 186.3,1311.79 189.27,1311.79 192.24,1311.8 195.21,1311.8 198.18,1311.81 201.15,1311.82 204.12,1311.82 207.09,1311.83 210.05,1311.84 213.02,1311.85 215.99,1311.85 218.96,1311.86 221.93,1311.87 224.9,1311.88 227.87,1311.89 230.84,1311.9 233.81,1311.92 236.78,1311.93 239.75,1311.94 242.72,1311.96 245.69,1311.97 248.66,1311.99 251.63,1312 254.6,1312.02 257.57,1312.04 260.54,1312.06 263.51,1312.08 266.48,1312.1 269.44,1312.13 272.41,1312.15 275.38,1312.18 278.35,1312.21 281.32,1312.24 284.29,1312.27 287.26,1312.3 290.23,1312.34 293.2,1312.37 296.17,1312.41 299.14,1312.45 302.11,1312.5 305.08,1312.55 308.05,1312.6 311.02,1312.65 313.99,1312.7 316.96,1312.76 319.93,1312.82 322.9,1312.89 325.87,1312.96 328.83,1313.03 331.8,1313.11 334.77,1313.19 337.74,1313.28 340.71,1313.37 343.68,1313.47 346.65,1313.57 349.62,1313.68 352.59,1313.79 355.56,1313.91 358.53,1314.04 361.5,1314.18 364.47,1314.32 367.44,1314.48 370.41,1314.64 373.38,1314.81 376.35,1314.99 379.32,1315.18 382.29,1315.38 385.25,1315.59 388.22,1315.82 391.19,1316.05 394.16,1316.3 397.13,1316.57 400.1,1316.85 403.07,1317.15 406.04,1317.46 409.01,1317.79 411.98,1318.14 414.95,1318.51 417.92,1318.9 420.89,1319.31 423.86,1319.75 426.83,1320.2 429.8,1320.69 432.77,1321.2 435.74,1321.74 438.71,1322.31 441.68,1322.91 444.64,1323.54 447.61,1324.21 450.58,1324.91 453.55,1325.65 456.52,1326.43 459.49,1327.25 462.46,1328.11 465.43,1329.02 468.4,1329.98 471.37,1330.99 474.34,1332.05 477.31,1333.16 480.28,1334.33 483.25,1335.56 486.22,1336.85 489.19,1338.2 492.16,1339.62 495.13,1341.11 498.1,1342.67 501.07,1344.3 504.04,1346.01 507,1347.8 509.97,1349.67 512.94,1351.62 515.91,1353.66 518.88,1355.79 521.85,1358.01 524.82,1360.32 527.79,1362.72 530.76,1365.22 533.73,1367.82 536.7,1370.52 539.67,1373.32 542.64,1376.22 545.61,1379.22 548.58,1382.32 551.55,1385.53 554.52,1388.84 557.49,1392.25 560.46,1395.76 563.42,1399.37 566.39,1403.08 569.36,1406.88 572.33,1410.78 575.3,1414.76 578.27,1418.83 581.24,1422.98 584.21,1427.21 587.18,1431.52 590.15,1435.89 593.12,1440.32 596.09,1444.8 599.06,1449.34 602.03,1453.92 605,1458.53 607.97,1463.17 610.94,1467.84 613.91,1472.52 616.88,1477.2 619.85,1481.88 622.82,1486.56 625.78,1491.21 628.75,1495.85 631.72,1500.45 634.69,1505.02 637.66,1509.54 640.63,1514.01 643.6,1518.42 646.57,1522.77 649.54,1527.05 652.51,1531.25 655.48,1535.38 658.45,1539.42 661.42,1543.38 664.39,1547.24 667.36,1551.02 670.33,1554.69 673.3,1558.27 676.27,1561.75 679.24,1565.13 682.21,1568.41 685.17,1571.58 688.14,1574.65 691.11,1577.62 694.08,1580.49 697.05,1583.26 700.02,1585.92 702.99,1588.49 705.96,1590.96 708.93,1593.33 711.9,1595.61" fill="none" stroke="#000" stroke-width="2.5" stroke-linejoin="round"/>
<polyline points="118,1311.72 120.97,1311.72 123.94,1311.72 126.91,1311.72 129.88,1311.72 132.85,1311.72 135.82,1311.72 138.79,1311.72 141.76,1311.72 144.73,1311.73 147.69,1311.73 150.66,1311.73 153.63,1311.73 156.6,1311.73 159.57,1311.73 162.54,1311.74 165.51,1311.74 168.48,1311.74 171.45,1311.74 174.42,1311.74 177.39,1311.75 180.36,1311.75 183.33,1311.75 186.3,1311.76 189.27,1311.76 192.24,1311.76 195.21,1311.77 198.18,1311.77 201.15,1311.77 204.12,1311.78 207.09,1311.78 210.05,1311.79 213.02,1311.79 215.99,1311.8 218.96,1311.8 221.93,1311.81 224.9,1311.82 227.87,1311.82 230.84,1311.83 233.81,1311.84 236.78,1311.85 239.75,1311.85 242.72,1311.86 245.69,1311.87 248.66,1311.88 251.63,1311.89 254.6,1311.91 257.57,1311.92 260.54,1311.93 263.51,1311.94 266.48,1311.96 269.44,1311.97 272.41,1311.99 275.38,1312.01 278.35,1312.02 281.32,1312.04 284.29,1312.06 287.26,1312.08 290.23,1312.11 293.2,1312.13 296.17,1312.16 299.14,1312.18 302.11,1312.21 305.08,1312.24 308.05,1312.27 311.02,1312.31 313.99,1312.34 316.96,1312.38 319.93,1312.42 322.9,1312.46 325.87,1312.51 328.83,1312.55 331.8,1312.6 334.77,1312.65 337.74,1312.71 340.71,1312.77 343.68,1312.83 346.65,1312.9 349.62,1312.97 352.59,1313.04 355.56,1313.12 358.53,1313.2 361.5,1313.29 364.47,1313.38 367.44,1313.48 370.41,1313.58 373.38,1313.69 376.35,1313.81 379.32,1313.93 382.29,1314.06 385.25,1314.2 388.22,1314.35 391.19,1314.5 394.16,1314.66 397.13,1314.83 400.1,1315.02 403.07,1315.21 406.04,1315.41 409.01,1315.63 411.98,1315.85 414.95,1316.09 417.92,1316.35 420.89,1316.62 423.86,1316.9 426.83,1317.2 429.8,1317.51 432.77,1317.85 435.74,1318.2 438.71,1318.58 441.68,1318.97 444.64,1319.39 447.61,1319.82 450.58,1320.29 453.55,1320.78 456.52,1321.29 459.49,1321.84 462.46,1322.41 465.43,1323.02 468.4,1323.66 471.37,1324.33 474.34,1325.04 477.31,1325.79 480.28,1326.58 483.25,1327.41 486.22,1328.28 489.19,1329.2 492.16,1330.17 495.13,1331.19 498.1,1332.26 501.07,1333.38 504.04,1334.56 507,1335.81 509.97,1337.11 512.94,1338.48 515.91,1339.91 518.88,1341.41 521.85,1342.99 524.82,1344.64 527.79,1346.37 530.76,1348.17 533.73,1350.06 536.7,1352.03 539.67,1354.09 542.64,1356.24 545.61,1358.48 548.58,1360.81 551.55,1363.24 554.52,1365.76 557.49,1368.38 560.46,1371.11 563.42,1373.93 566.39,1376.85 569.36,1379.88 572.33,1383.01 575.3,1386.24 578.27,1389.58 581.24,1393.01 584.21,1396.55 587.18,1400.19 590.15,1403.92 593.12,1407.75 596.09,1411.67 599.06,1415.68 602.03,1419.77 605,1423.94 607.97,1428.19 610.94,1432.52 613.91,1436.91 616.88,1441.35 619.85,1445.86 622.82,1450.41 625.78,1455 628.75,1459.63 631.72,1464.28 634.69,1468.95 637.66,1473.64 640.63,1478.33 643.6,1483.01 646.57,1487.69 649.54,1492.35 652.51,1496.98 655.48,1501.58 658.45,1506.14 661.42,1510.65 664.39,1515.11 667.36,1519.51 670.33,1523.85 673.3,1528.11 676.27,1532.3 679.24,1536.41 682.21,1540.44 685.17,1544.38 688.14,1548.22 691.11,1551.97 694.08,1555.63 697.05,1559.19 700.02,1562.64 702.99,1566 705.96,1569.25 708.93,1572.4 711.9,1575.45" fill="none" stroke="#414f9c" stroke-width="2.1" stroke-linejoin="round"/>
<line x1="236.78" y1="1270.51" x2="236.78" y2="1304.78" stroke="#000" stroke-width="2"/>
<line x1="228.28" y1="1270.51" x2="245.28" y2="1270.51" stroke="#000" stroke-width="2"/>
<line x1="228.28" y1="1304.78" x2="245.28" y2="1304.78" stroke="#000" stroke-width="2"/>
<line x1="236.78" y1="1324.55" x2="236.78" y2="1346.3" stroke="#000" stroke-width="2"/>
<line x1="228.28" y1="1324.55" x2="245.28" y2="1324.55" stroke="#000" stroke-width="2"/>
<line x1="228.28" y1="1346.3" x2="245.28" y2="1346.3" stroke="#000" stroke-width="2"/>
<line x1="236.78" y1="1385.84" x2="236.78" y2="1414.5" stroke="#000" stroke-width="2"/>
<line x1="228.28" y1="1385.84" x2="245.28" y2="1385.84" stroke="#000" stroke-width="2"/>
<line x1="228.28" y1="1414.5" x2="245.28" y2="1414.5" stroke="#000" stroke-width="2"/>
<line x1="236.78" y1="1456.68" x2="236.78" y2="1492.27" stroke="#000" stroke-width="2"/>
<line x1="228.28" y1="1456.68" x2="245.28" y2="1456.68" stroke="#000" stroke-width="2"/>
<line x1="228.28" y1="1492.27" x2="245.28" y2="1492.27" stroke="#000" stroke-width="2"/>
<line x1="355.56" y1="1355.85" x2="355.56" y2="1385.84" stroke="#000" stroke-width="2"/>
<line x1="347.06" y1="1355.85" x2="364.06" y2="1355.85" stroke="#000" stroke-width="2"/>
<line x1="347.06" y1="1385.84" x2="364.06" y2="1385.84" stroke="#000" stroke-width="2"/>
<line x1="355.56" y1="1452.07" x2="355.56" y2="1470.85" stroke="#000" stroke-width="2"/>
<line x1="347.06" y1="1452.07" x2="364.06" y2="1452.07" stroke="#000" stroke-width="2"/>
<line x1="347.06" y1="1470.85" x2="364.06" y2="1470.85" stroke="#000" stroke-width="2"/>
<line x1="355.56" y1="1473.15" x2="355.56" y2="1498.2" stroke="#000" stroke-width="2"/>
<line x1="347.06" y1="1473.15" x2="364.06" y2="1473.15" stroke="#000" stroke-width="2"/>
<line x1="347.06" y1="1498.2" x2="364.06" y2="1498.2" stroke="#000" stroke-width="2"/>
<line x1="355.56" y1="1471.51" x2="355.56" y2="1525.88" stroke="#000" stroke-width="2"/>
<line x1="347.06" y1="1471.51" x2="364.06" y2="1471.51" stroke="#000" stroke-width="2"/>
<line x1="347.06" y1="1525.88" x2="364.06" y2="1525.88" stroke="#000" stroke-width="2"/>
<line x1="474.34" y1="1289.95" x2="474.34" y2="1349.26" stroke="#000" stroke-width="2"/>
<line x1="465.84" y1="1289.95" x2="482.84" y2="1289.95" stroke="#000" stroke-width="2"/>
<line x1="465.84" y1="1349.26" x2="482.84" y2="1349.26" stroke="#000" stroke-width="2"/>
<line x1="474.34" y1="1374.63" x2="474.34" y2="1427.35" stroke="#000" stroke-width="2"/>
<line x1="465.84" y1="1374.63" x2="482.84" y2="1374.63" stroke="#000" stroke-width="2"/>
<line x1="465.84" y1="1427.35" x2="482.84" y2="1427.35" stroke="#000" stroke-width="2"/>
<line x1="474.34" y1="1432.63" x2="474.34" y2="1497.54" stroke="#000" stroke-width="2"/>
<line x1="465.84" y1="1432.63" x2="482.84" y2="1432.63" stroke="#000" stroke-width="2"/>
<line x1="465.84" y1="1497.54" x2="482.84" y2="1497.54" stroke="#000" stroke-width="2"/>
<line x1="474.34" y1="1473.15" x2="474.34" y2="1497.54" stroke="#000" stroke-width="2"/>
<line x1="465.84" y1="1473.15" x2="482.84" y2="1473.15" stroke="#000" stroke-width="2"/>
<line x1="465.84" y1="1497.54" x2="482.84" y2="1497.54" stroke="#000" stroke-width="2"/>
<line x1="593.12" y1="1398.69" x2="593.12" y2="1409.23" stroke="#000" stroke-width="2"/>
<line x1="584.62" y1="1398.69" x2="601.62" y2="1398.69" stroke="#000" stroke-width="2"/>
<line x1="584.62" y1="1409.23" x2="601.62" y2="1409.23" stroke="#000" stroke-width="2"/>
<line x1="593.12" y1="1381.55" x2="593.12" y2="1445.81" stroke="#000" stroke-width="2"/>
<line x1="584.62" y1="1381.55" x2="601.62" y2="1381.55" stroke="#000" stroke-width="2"/>
<line x1="584.62" y1="1445.81" x2="601.62" y2="1445.81" stroke="#000" stroke-width="2"/>
<line x1="593.12" y1="1463.6" x2="593.12" y2="1498.2" stroke="#000" stroke-width="2"/>
<line x1="584.62" y1="1463.6" x2="601.62" y2="1463.6" stroke="#000" stroke-width="2"/>
<line x1="584.62" y1="1498.2" x2="601.62" y2="1498.2" stroke="#000" stroke-width="2"/>
<line x1="593.12" y1="1615.5" x2="593.12" y2="1636.26" stroke="#000" stroke-width="2"/>
<line x1="584.62" y1="1615.5" x2="601.62" y2="1615.5" stroke="#000" stroke-width="2"/>
<line x1="584.62" y1="1636.26" x2="601.62" y2="1636.26" stroke="#000" stroke-width="2"/>
<line x1="711.9" y1="1558.83" x2="711.9" y2="1576.95" stroke="#000" stroke-width="2"/>
<line x1="703.4" y1="1558.83" x2="720.4" y2="1558.83" stroke="#000" stroke-width="2"/>
<line x1="703.4" y1="1576.95" x2="720.4" y2="1576.95" stroke="#000" stroke-width="2"/>
<line x1="711.9" y1="1619.78" x2="711.9" y2="1629.67" stroke="#000" stroke-width="2"/>
<line x1="703.4" y1="1619.78" x2="720.4" y2="1619.78" stroke="#000" stroke-width="2"/>
<line x1="703.4" y1="1629.67" x2="720.4" y2="1629.67" stroke="#000" stroke-width="2"/>
<line x1="711.9" y1="1618.13" x2="711.9" y2="1628.02" stroke="#000" stroke-width="2"/>
<line x1="703.4" y1="1618.13" x2="720.4" y2="1618.13" stroke="#000" stroke-width="2"/>
<line x1="703.4" y1="1628.02" x2="720.4" y2="1628.02" stroke="#000" stroke-width="2"/>
<line x1="711.9" y1="1632.96" x2="711.9" y2="1639.55" stroke="#000" stroke-width="2"/>
<line x1="703.4" y1="1632.96" x2="720.4" y2="1632.96" stroke="#000" stroke-width="2"/>
<line x1="703.4" y1="1639.55" x2="720.4" y2="1639.55" stroke="#000" stroke-width="2"/>
<polygon points="110,1303.7 126,1303.7 118,1319.7" fill="#000"/>
<circle cx="118" cy="1311.7" r="7.8" fill="#000"/>
<polygon points="118,1303.7 126,1319.7 110,1319.7" fill="#000"/>
<rect x="110" y="1303.7" width="16" height="16" fill="#000"/>
<polygon points="228.78,1278 244.78,1278 236.78,1294" fill="#000"/>
<circle cx="236.78" cy="1335.75" r="7.8" fill="#000"/>
<rect x="228.78" y="1392.34" width="16" height="16" fill="#000"/>
<polygon points="236.78,1468.12 244.78,1484.12 228.78,1484.12" fill="#000"/>
<circle cx="355.56" cy="1371.01" r="7.8" fill="#000"/>
<polygon points="347.56,1453.29 363.56,1453.29 355.56,1469.29" fill="#000"/>
<rect x="347.56" y="1474.71" width="16" height="16" fill="#000"/>
<polygon points="355.56,1480.97 363.56,1496.97 347.56,1496.97" fill="#000"/>
<polygon points="466.34,1311.94 482.34,1311.94 474.34,1327.94" fill="#000"/>
<circle cx="474.34" cy="1400.99" r="7.8" fill="#000"/>
<polygon points="474.34,1457.91 482.34,1473.91 466.34,1473.91" fill="#000"/>
<rect x="466.34" y="1477.35" width="16" height="16" fill="#000"/>
<circle cx="593.12" cy="1402.31" r="7.8" fill="#000"/>
<polygon points="585.12,1401.89 601.12,1401.89 593.12,1417.89" fill="#000"/>
<rect x="585.12" y="1473.39" width="16" height="16" fill="#000"/>
<polygon points="593.12,1618.04 601.12,1634.04 585.12,1634.04" fill="#000"/>
<polygon points="703.9,1559.72 719.9,1559.72 711.9,1575.72" fill="#000"/>
<circle cx="711.9" cy="1624.73" r="7.8" fill="#000"/>
<rect x="703.9" y="1615.41" width="16" height="16" fill="#000"/>
<polygon points="711.9,1627.93 719.9,1643.93 703.9,1643.93" fill="#000"/>
<line x1="491.9" y1="1269.5" x2="535.5" y2="1269.5" stroke="#000" stroke-width="2.4"/>
<circle cx="513.7" cy="1269.5" r="7.8" fill="#000"/>
<text transform="translate(559.3 1280.7) scale(1 1.05)" font-size="32" text-anchor="start" fill="#000" stroke="#000" stroke-width="0.5">VC</text>
<line x1="491.9" y1="1305.7" x2="535.5" y2="1305.7" stroke="#414f9c" stroke-width="2.4"/>
<polygon points="505.7,1297.7 521.7,1297.7 513.7,1313.7" fill="#000"/>
<text transform="translate(558.8 1316.9) scale(1 1.05)" font-size="32" text-anchor="start" fill="#000" stroke="#000" stroke-width="0.5">EXO1+N4</text>
<line x1="124.4" y1="1578" x2="168" y2="1578" stroke="#d98b2b" stroke-width="2.4"/>
<rect x="138.2" y="1570" width="16" height="16" fill="#000"/>
<text transform="translate(192.5 1589.2) scale(1 1.05)" font-size="32" text-anchor="start" fill="#000" stroke="#000" stroke-width="0.5">EXO1</text>
<line x1="124.4" y1="1612.6" x2="168" y2="1612.6" stroke="#a35aa0" stroke-width="2.4"/>
<polygon points="146.2,1604.6 154.2,1620.6 138.2,1620.6" fill="#000"/>
<text transform="translate(192.5 1623.8) scale(1 1.05)" font-size="32" text-anchor="start" fill="#000" stroke="#000" stroke-width="0.5">N4BP2L2</text>
<text transform="translate(34.8 1443.5) rotate(-90) scale(1 1.05)" font-size="32" text-anchor="middle" fill="#000" stroke="#000" stroke-width="0.5">%survival</text>
<text transform="translate(411.8 1727.4) scale(1 1.05)" font-size="32.3" text-anchor="middle" fill="#000" stroke="#000" stroke-width="0.5">Olaparib(<tspan font-style="italic">&#956;</tspan>M)</text>
<rect x="877.6" y="1245.7" width="594.4" height="395.5" fill="none" stroke="#000" stroke-width="2"/>
<line x1="871.6" y1="1641.2" x2="877.6" y2="1641.2" stroke="#000" stroke-width="2"/>
<text transform="translate(860.8 1651.8) scale(1 1.05)" font-size="30" text-anchor="end" fill="#000" stroke="#000" stroke-width="0.5">0</text>
<line x1="871.6" y1="1575.3" x2="877.6" y2="1575.3" stroke="#000" stroke-width="2"/>
<text transform="translate(860.8 1585.9) scale(1 1.05)" font-size="30" text-anchor="end" fill="#000" stroke="#000" stroke-width="0.5">20</text>
<line x1="871.6" y1="1509.4" x2="877.6" y2="1509.4" stroke="#000" stroke-width="2"/>
<text transform="translate(860.8 1520) scale(1 1.05)" font-size="30" text-anchor="end" fill="#000" stroke="#000" stroke-width="0.5">40</text>
<line x1="871.6" y1="1443.5" x2="877.6" y2="1443.5" stroke="#000" stroke-width="2"/>
<text transform="translate(860.8 1454.1) scale(1 1.05)" font-size="30" text-anchor="end" fill="#000" stroke="#000" stroke-width="0.5">60</text>
<line x1="871.6" y1="1377.6" x2="877.6" y2="1377.6" stroke="#000" stroke-width="2"/>
<text transform="translate(860.8 1388.2) scale(1 1.05)" font-size="30" text-anchor="end" fill="#000" stroke="#000" stroke-width="0.5">80</text>
<line x1="871.6" y1="1311.7" x2="877.6" y2="1311.7" stroke="#000" stroke-width="2"/>
<text transform="translate(860.8 1322.3) scale(1 1.05)" font-size="30" text-anchor="end" fill="#000" stroke="#000" stroke-width="0.5">100</text>
<line x1="871.6" y1="1245.8" x2="877.6" y2="1245.8" stroke="#000" stroke-width="2"/>
<text transform="translate(860.8 1256.4) scale(1 1.05)" font-size="30" text-anchor="end" fill="#000" stroke="#000" stroke-width="0.5">120</text>
<line x1="877.6" y1="1641.2" x2="877.6" y2="1647.2" stroke="#000" stroke-width="2"/>
<text transform="translate(879.1 1688.2) scale(1 1.05)" font-size="30" text-anchor="middle" fill="#000" stroke="#000" stroke-width="0.5">10<tspan font-size="22" dy="-10.29">-3</tspan></text>
<line x1="996.5" y1="1641.2" x2="996.5" y2="1647.2" stroke="#000" stroke-width="2"/>
<text transform="translate(998 1688.2) scale(1 1.05)" font-size="30" text-anchor="middle" fill="#000" stroke="#000" stroke-width="0.5">10<tspan font-size="22" dy="-10.29">-2</tspan></text>
<line x1="1115.4" y1="1641.2" x2="1115.4" y2="1647.2" stroke="#000" stroke-width="2"/>
<text transform="translate(1116.9 1688.2) scale(1 1.05)" font-size="30" text-anchor="middle" fill="#000" stroke="#000" stroke-width="0.5">10<tspan font-size="22" dy="-10.29">-1</tspan></text>
<line x1="1234.3" y1="1641.2" x2="1234.3" y2="1647.2" stroke="#000" stroke-width="2"/>
<text transform="translate(1235.8 1688.2) scale(1 1.05)" font-size="30" text-anchor="middle" fill="#000" stroke="#000" stroke-width="0.5">10<tspan font-size="22" dy="-10.29">0</tspan></text>
<line x1="1353.2" y1="1641.2" x2="1353.2" y2="1647.2" stroke="#000" stroke-width="2"/>
<text transform="translate(1354.7 1688.2) scale(1 1.05)" font-size="30" text-anchor="middle" fill="#000" stroke="#000" stroke-width="0.5">10<tspan font-size="22" dy="-10.29">1</tspan></text>
<line x1="1472.1" y1="1641.2" x2="1472.1" y2="1647.2" stroke="#000" stroke-width="2"/>
<text transform="translate(1473.6 1688.2) scale(1 1.05)" font-size="30" text-anchor="middle" fill="#000" stroke="#000" stroke-width="0.5">10<tspan font-size="22" dy="-10.29">2</tspan></text>
<polyline points="877.6,1313.1 880.57,1313.18 883.54,1313.27 886.52,1313.36 889.49,1313.46 892.46,1313.56 895.44,1313.67 898.41,1313.78 901.38,1313.91 904.35,1314.04 907.33,1314.18 910.3,1314.32 913.27,1314.47 916.24,1314.64 919.22,1314.81 922.19,1314.99 925.16,1315.19 928.13,1315.39 931.11,1315.61 934.08,1315.83 937.05,1316.08 940.02,1316.33 943,1316.6 945.97,1316.89 948.94,1317.19 951.91,1317.51 954.88,1317.85 957.86,1318.2 960.83,1318.58 963.8,1318.98 966.78,1319.4 969.75,1319.85 972.72,1320.32 975.69,1320.81 978.67,1321.34 981.64,1321.89 984.61,1322.47 987.58,1323.09 990.56,1323.74 993.53,1324.43 996.5,1325.15 999.47,1325.91 1002.45,1326.72 1005.42,1327.56 1008.39,1328.46 1011.36,1329.4 1014.34,1330.39 1017.31,1331.43 1020.28,1332.52 1023.25,1333.67 1026.22,1334.88 1029.2,1336.15 1032.17,1337.49 1035.14,1338.89 1038.12,1340.36 1041.09,1341.91 1044.06,1343.52 1047.03,1345.22 1050.01,1346.99 1052.98,1348.85 1055.95,1350.79 1058.92,1352.81 1061.89,1354.93 1064.87,1357.14 1067.84,1359.44 1070.81,1361.84 1073.79,1364.33 1076.76,1366.93 1079.73,1369.63 1082.7,1372.43 1085.67,1375.33 1088.65,1378.34 1091.62,1381.45 1094.59,1384.67 1097.57,1387.99 1100.54,1391.42 1103.51,1394.95 1106.48,1398.58 1109.45,1402.31 1112.43,1406.14 1115.4,1410.07 1118.37,1414.09 1121.35,1418.19 1124.32,1422.38 1127.29,1426.65 1130.26,1431 1133.24,1435.41 1136.21,1439.89 1139.18,1444.43 1142.15,1449.02 1145.12,1453.65 1148.1,1458.31 1151.07,1463.01 1154.04,1467.73 1157.02,1472.47 1159.99,1477.21 1162.96,1481.95 1165.93,1486.68 1168.9,1491.39 1171.88,1496.08 1174.85,1500.74 1177.82,1505.36 1180.8,1509.93 1183.77,1514.45 1186.74,1518.91 1189.71,1523.3 1192.68,1527.62 1195.66,1531.87 1198.63,1536.03 1201.6,1540.11 1204.58,1544.1 1207.55,1547.99 1210.52,1551.79 1213.49,1555.49 1216.47,1559.09 1219.44,1562.59 1222.41,1565.98 1225.38,1569.27 1228.36,1572.46 1231.33,1575.54 1234.3,1578.51 1237.27,1581.38 1240.24,1584.15 1243.22,1586.81 1246.19,1589.38 1249.16,1591.84 1252.13,1594.21 1255.11,1596.48 1258.08,1598.66 1261.05,1600.75 1264.03,1602.74 1267,1604.66 1269.97,1606.49 1272.94,1608.23 1275.91,1609.9 1278.89,1611.5 1281.86,1613.01 1284.83,1614.46 1287.81,1615.84 1290.78,1617.16 1293.75,1618.41 1296.72,1619.6 1299.7,1620.74 1302.67,1621.81 1305.64,1622.84 1308.61,1623.81 1311.59,1624.73 1314.56,1625.61 1317.53,1626.44 1320.5,1627.23 1323.47,1627.98 1326.45,1628.7 1329.42,1629.37 1332.39,1630.01 1335.37,1630.62 1338.34,1631.19 1341.31,1631.73 1344.28,1632.25 1347.26,1632.74 1350.23,1633.2 1353.2,1633.64 1356.17,1634.05 1359.14,1634.44 1362.12,1634.81 1365.09,1635.16 1368.06,1635.49 1371.04,1635.81 1374.01,1636.11 1376.98,1636.39 1379.95,1636.65 1382.93,1636.9 1385.9,1637.14 1388.87,1637.36 1391.84,1637.58 1394.82,1637.78 1397.79,1637.97 1400.76,1638.15 1403.73,1638.32 1406.7,1638.48 1409.68,1638.63 1412.65,1638.77 1415.62,1638.9 1418.6,1639.03 1421.57,1639.15 1424.54,1639.27 1427.51,1639.37 1430.49,1639.48 1433.46,1639.57 1436.43,1639.66 1439.4,1639.75 1442.38,1639.83 1445.35,1639.91 1448.32,1639.98 1451.29,1640.05 1454.26,1640.11 1457.24,1640.17 1460.21,1640.23 1463.18,1640.28 1466.16,1640.33 1469.13,1640.38 1472.1,1640.43" fill="none" stroke="#d98b2b" stroke-width="2" stroke-linejoin="round"/>
<polyline points="877.6,1318.4 880.57,1318.79 883.54,1319.21 886.52,1319.64 889.49,1320.11 892.46,1320.6 895.44,1321.11 898.41,1321.66 901.38,1322.23 904.35,1322.84 907.33,1323.48 910.3,1324.16 913.27,1324.87 916.24,1325.62 919.22,1326.42 922.19,1327.25 925.16,1328.13 928.13,1329.06 931.11,1330.04 934.08,1331.07 937.05,1332.16 940.02,1333.3 943,1334.5 945.97,1335.76 948.94,1337.08 951.91,1338.47 954.88,1339.94 957.86,1341.47 960.83,1343.08 963.8,1344.76 966.78,1346.53 969.75,1348.37 972.72,1350.3 975.69,1352.32 978.67,1354.43 981.64,1356.64 984.61,1358.93 987.58,1361.33 990.56,1363.82 993.53,1366.42 996.5,1369.11 999.47,1371.91 1002.45,1374.82 1005.42,1377.83 1008.39,1380.95 1011.36,1384.17 1014.34,1387.5 1017.31,1390.94 1020.28,1394.48 1023.25,1398.12 1026.22,1401.87 1029.2,1405.71 1032.17,1409.66 1035.14,1413.69 1038.12,1417.82 1041.09,1422.03 1044.06,1426.33 1047.03,1430.7 1050.01,1435.14 1052.98,1439.64 1055.95,1444.21 1058.92,1448.83 1061.89,1453.49 1064.87,1458.19 1067.84,1462.92 1070.81,1467.67 1073.79,1472.44 1076.76,1477.21 1079.73,1481.99 1082.7,1486.75 1085.67,1491.5 1088.65,1496.22 1091.62,1500.91 1094.59,1505.56 1097.57,1510.16 1100.54,1514.7 1103.51,1519.19 1106.48,1523.61 1109.45,1527.96 1112.43,1532.22 1115.4,1536.41 1118.37,1540.51 1121.35,1544.52 1124.32,1548.43 1127.29,1552.24 1130.26,1555.96 1133.24,1559.57 1136.21,1563.07 1139.18,1566.48 1142.15,1569.77 1145.12,1572.96 1148.1,1576.05 1151.07,1579.02 1154.04,1581.89 1157.02,1584.66 1159.99,1587.32 1162.96,1589.89 1165.93,1592.35 1168.9,1594.71 1171.88,1596.98 1174.85,1599.15 1177.82,1601.23 1180.8,1603.22 1183.77,1605.13 1186.74,1606.95 1189.71,1608.69 1192.68,1610.35 1195.66,1611.93 1198.63,1613.44 1201.6,1614.88 1204.58,1616.25 1207.55,1617.55 1210.52,1618.79 1213.49,1619.97 1216.47,1621.1 1219.44,1622.16 1222.41,1623.18 1225.38,1624.14 1228.36,1625.05 1231.33,1625.92 1234.3,1626.74 1237.27,1627.52 1240.24,1628.26 1243.22,1628.97 1246.19,1629.63 1249.16,1630.26 1252.13,1630.86 1255.11,1631.42 1258.08,1631.96 1261.05,1632.46 1264.03,1632.94 1267,1633.4 1269.97,1633.83 1272.94,1634.23 1275.91,1634.62 1278.89,1634.98 1281.86,1635.33 1284.83,1635.65 1287.81,1635.96 1290.78,1636.25 1293.75,1636.52 1296.72,1636.78 1299.7,1637.03 1302.67,1637.26 1305.64,1637.48 1308.61,1637.69 1311.59,1637.88 1314.56,1638.07 1317.53,1638.24 1320.5,1638.41 1323.47,1638.56 1326.45,1638.71 1329.42,1638.85 1332.39,1638.98 1335.37,1639.11 1338.34,1639.22 1341.31,1639.33 1344.28,1639.44 1347.26,1639.54 1350.23,1639.63 1353.2,1639.72 1356.17,1639.8 1359.14,1639.88 1362.12,1639.95 1365.09,1640.02 1368.06,1640.09 1371.04,1640.15 1374.01,1640.21 1376.98,1640.27 1379.95,1640.32 1382.93,1640.37 1385.9,1640.42 1388.87,1640.46 1391.84,1640.5 1394.82,1640.54 1397.79,1640.58 1400.76,1640.61 1403.73,1640.65 1406.7,1640.68 1409.68,1640.71 1412.65,1640.73 1415.62,1640.76 1418.6,1640.78 1421.57,1640.81 1424.54,1640.83 1427.51,1640.85 1430.49,1640.87 1433.46,1640.89 1436.43,1640.91 1439.4,1640.92 1442.38,1640.94 1445.35,1640.95 1448.32,1640.97 1451.29,1640.98 1454.26,1640.99 1457.24,1641 1460.21,1641.02 1463.18,1641.03 1466.16,1641.04 1469.13,1641.04 1472.1,1641.05" fill="none" stroke="#a35aa0" stroke-width="2" stroke-linejoin="round"/>
<polyline points="877.6,1311.91 880.57,1311.92 883.54,1311.93 886.52,1311.95 889.49,1311.96 892.46,1311.98 895.44,1311.99 898.41,1312.01 901.38,1312.03 904.35,1312.05 907.33,1312.07 910.3,1312.09 913.27,1312.11 916.24,1312.14 919.22,1312.16 922.19,1312.19 925.16,1312.22 928.13,1312.25 931.11,1312.28 934.08,1312.32 937.05,1312.35 940.02,1312.39 943,1312.43 945.97,1312.48 948.94,1312.52 951.91,1312.57 954.88,1312.62 957.86,1312.68 960.83,1312.73 963.8,1312.79 966.78,1312.86 969.75,1312.93 972.72,1313 975.69,1313.08 978.67,1313.16 981.64,1313.24 984.61,1313.33 987.58,1313.43 990.56,1313.53 993.53,1313.64 996.5,1313.75 999.47,1313.87 1002.45,1314 1005.42,1314.14 1008.39,1314.28 1011.36,1314.43 1014.34,1314.59 1017.31,1314.76 1020.28,1314.94 1023.25,1315.13 1026.22,1315.33 1029.2,1315.54 1032.17,1315.77 1035.14,1316 1038.12,1316.26 1041.09,1316.52 1044.06,1316.8 1047.03,1317.1 1050.01,1317.41 1052.98,1317.74 1055.95,1318.09 1058.92,1318.46 1061.89,1318.86 1064.87,1319.27 1067.84,1319.71 1070.81,1320.17 1073.79,1320.65 1076.76,1321.17 1079.73,1321.71 1082.7,1322.28 1085.67,1322.89 1088.65,1323.53 1091.62,1324.2 1094.59,1324.91 1097.57,1325.66 1100.54,1326.44 1103.51,1327.28 1106.48,1328.15 1109.45,1329.07 1112.43,1330.04 1115.4,1331.06 1118.37,1332.14 1121.35,1333.27 1124.32,1334.45 1127.29,1335.7 1130.26,1337.01 1133.24,1338.39 1136.21,1339.83 1139.18,1341.34 1142.15,1342.93 1145.12,1344.59 1148.1,1346.33 1151.07,1348.15 1154.04,1350.06 1157.02,1352.05 1159.99,1354.13 1162.96,1356.3 1165.93,1358.56 1168.9,1360.92 1171.88,1363.37 1174.85,1365.92 1177.82,1368.58 1180.8,1371.33 1183.77,1374.19 1186.74,1377.15 1189.71,1380.21 1192.68,1383.38 1195.66,1386.66 1198.63,1390.04 1201.6,1393.52 1204.58,1397.1 1207.55,1400.79 1210.52,1404.57 1213.49,1408.45 1216.47,1412.42 1219.44,1416.48 1222.41,1420.63 1225.38,1424.86 1228.36,1429.17 1231.33,1433.54 1234.3,1437.99 1237.27,1442.49 1240.24,1447.05 1243.22,1451.65 1246.19,1456.3 1249.16,1460.97 1252.13,1465.68 1255.11,1470.4 1258.08,1475.12 1261.05,1479.86 1264.03,1484.58 1267,1489.3 1269.97,1493.99 1272.94,1498.65 1275.91,1503.28 1278.89,1507.86 1281.86,1512.4 1284.83,1516.87 1287.81,1521.29 1290.78,1525.64 1293.75,1529.91 1296.72,1534.1 1299.7,1538.21 1302.67,1542.24 1305.64,1546.17 1308.61,1550.01 1311.59,1553.75 1314.56,1557.39 1317.53,1560.93 1320.5,1564.36 1323.47,1567.69 1326.45,1570.92 1329.42,1574.05 1332.39,1577.07 1335.37,1579.98 1338.34,1582.79 1341.31,1585.5 1344.28,1588.11 1347.26,1590.62 1350.23,1593.03 1353.2,1595.35 1356.17,1597.57 1359.14,1599.7 1362.12,1601.74 1365.09,1603.69 1368.06,1605.56 1371.04,1607.34 1374.01,1609.05 1376.98,1610.68 1379.95,1612.23 1382.93,1613.71 1385.9,1615.13 1388.87,1616.47 1391.84,1617.76 1394.82,1618.98 1397.79,1620.14 1400.76,1621.24 1403.73,1622.29 1406.7,1623.29 1409.68,1624.24 1412.65,1625.14 1415.62,1626 1418.6,1626.81 1421.57,1627.58 1424.54,1628.31 1427.51,1629 1430.49,1629.66 1433.46,1630.28 1436.43,1630.87 1439.4,1631.43 1442.38,1631.96 1445.35,1632.46 1448.32,1632.94 1451.29,1633.39 1454.26,1633.82 1457.24,1634.22 1460.21,1634.6 1463.18,1634.96 1466.16,1635.3 1469.13,1635.63 1472.1,1635.93" fill="none" stroke="#414f9c" stroke-width="2.6" stroke-linejoin="round"/>
<polyline points="877.6,1311.91 880.57,1311.93 883.54,1311.94 886.52,1311.96 889.49,1311.97 892.46,1311.99 895.44,1312 898.41,1312.02 901.38,1312.04 904.35,1312.06 907.33,1312.08 910.3,1312.1 913.27,1312.13 916.24,1312.15 919.22,1312.18 922.19,1312.21 925.16,1312.24 928.13,1312.27 931.11,1312.3 934.08,1312.34 937.05,1312.38 940.02,1312.42 943,1312.46 945.97,1312.5 948.94,1312.55 951.91,1312.6 954.88,1312.65 957.86,1312.71 960.83,1312.77 963.8,1312.83 966.78,1312.9 969.75,1312.97 972.72,1313.05 975.69,1313.12 978.67,1313.21 981.64,1313.3 984.61,1313.39 987.58,1313.49 990.56,1313.6 993.53,1313.71 996.5,1313.83 999.47,1313.95 1002.45,1314.08 1005.42,1314.22 1008.39,1314.37 1011.36,1314.53 1014.34,1314.69 1017.31,1314.87 1020.28,1315.05 1023.25,1315.25 1026.22,1315.46 1029.2,1315.68 1032.17,1315.91 1035.14,1316.15 1038.12,1316.41 1041.09,1316.69 1044.06,1316.98 1047.03,1317.28 1050.01,1317.61 1052.98,1317.95 1055.95,1318.31 1058.92,1318.7 1061.89,1319.1 1064.87,1319.53 1067.84,1319.98 1070.81,1320.46 1073.79,1320.96 1076.76,1321.49 1079.73,1322.05 1082.7,1322.64 1085.67,1323.27 1088.65,1323.93 1091.62,1324.62 1094.59,1325.35 1097.57,1326.12 1100.54,1326.94 1103.51,1327.79 1106.48,1328.7 1109.45,1329.65 1112.43,1330.65 1115.4,1331.7 1118.37,1332.81 1121.35,1333.97 1124.32,1335.19 1127.29,1336.48 1130.26,1337.83 1133.24,1339.24 1136.21,1340.73 1139.18,1342.29 1142.15,1343.92 1145.12,1345.63 1148.1,1347.42 1151.07,1349.29 1154.04,1351.24 1157.02,1353.29 1159.99,1355.42 1162.96,1357.64 1165.93,1359.96 1168.9,1362.38 1171.88,1364.89 1174.85,1367.5 1177.82,1370.22 1180.8,1373.03 1183.77,1375.95 1186.74,1378.98 1189.71,1382.1 1192.68,1385.34 1195.66,1388.67 1198.63,1392.11 1201.6,1395.66 1204.58,1399.3 1207.55,1403.05 1210.52,1406.89 1213.49,1410.82 1216.47,1414.85 1219.44,1418.96 1222.41,1423.16 1225.38,1427.44 1228.36,1431.79 1231.33,1436.2 1234.3,1440.68 1237.27,1445.22 1240.24,1449.81 1243.22,1454.43 1246.19,1459.1 1249.16,1463.79 1252.13,1468.51 1255.11,1473.23 1258.08,1477.96 1261.05,1482.69 1264.03,1487.41 1267,1492.11 1269.97,1496.79 1272.94,1501.43 1275.91,1506.03 1278.89,1510.59 1281.86,1515.09 1284.83,1519.53 1287.81,1523.91 1290.78,1528.21 1293.75,1532.44 1296.72,1536.58 1299.7,1540.64 1302.67,1544.61 1305.64,1548.48 1308.61,1552.26 1311.59,1555.94 1314.56,1559.52 1317.53,1563 1320.5,1566.37 1323.47,1569.64 1326.45,1572.81 1329.42,1575.87 1332.39,1578.83 1335.37,1581.68 1338.34,1584.43 1341.31,1587.08 1344.28,1589.63 1347.26,1592.08 1350.23,1594.43 1353.2,1596.69 1356.17,1598.86 1359.14,1600.93 1362.12,1602.92 1365.09,1604.82 1368.06,1606.64 1371.04,1608.38 1374.01,1610.03 1376.98,1611.62 1379.95,1613.13 1382.93,1614.57 1385.9,1615.94 1388.87,1617.25 1391.84,1618.5 1394.82,1619.68 1397.79,1620.81 1400.76,1621.88 1403.73,1622.9 1406.7,1623.87 1409.68,1624.79 1412.65,1625.66 1415.62,1626.49 1418.6,1627.27 1421.57,1628.02 1424.54,1628.73 1427.51,1629.4 1430.49,1630.04 1433.46,1630.64 1436.43,1631.21 1439.4,1631.75 1442.38,1632.27 1445.35,1632.75 1448.32,1633.21 1451.29,1633.65 1454.26,1634.06 1457.24,1634.45 1460.21,1634.82 1463.18,1635.17 1466.16,1635.5 1469.13,1635.81 1472.1,1636.11" fill="none" stroke="#000" stroke-width="2.6" stroke-linejoin="round"/>
<line x1="996.5" y1="1295.23" x2="996.5" y2="1308.4" stroke="#000" stroke-width="2"/>
<line x1="988" y1="1295.23" x2="1005" y2="1295.23" stroke="#000" stroke-width="2"/>
<line x1="988" y1="1308.4" x2="1005" y2="1308.4" stroke="#000" stroke-width="2"/>
<line x1="996.5" y1="1306.76" x2="996.5" y2="1316.64" stroke="#000" stroke-width="2"/>
<line x1="988" y1="1306.76" x2="1005" y2="1306.76" stroke="#000" stroke-width="2"/>
<line x1="988" y1="1316.64" x2="1005" y2="1316.64" stroke="#000" stroke-width="2"/>
<line x1="996.5" y1="1352.23" x2="996.5" y2="1387.49" stroke="#000" stroke-width="2"/>
<line x1="988" y1="1352.23" x2="1005" y2="1352.23" stroke="#000" stroke-width="2"/>
<line x1="988" y1="1387.49" x2="1005" y2="1387.49" stroke="#000" stroke-width="2"/>
<line x1="996.5" y1="1435.92" x2="996.5" y2="1468.87" stroke="#000" stroke-width="2"/>
<line x1="988" y1="1435.92" x2="1005" y2="1435.92" stroke="#000" stroke-width="2"/>
<line x1="988" y1="1468.87" x2="1005" y2="1468.87" stroke="#000" stroke-width="2"/>
<line x1="1115.4" y1="1351.57" x2="1115.4" y2="1376.28" stroke="#000" stroke-width="2"/>
<line x1="1106.9" y1="1351.57" x2="1123.9" y2="1351.57" stroke="#000" stroke-width="2"/>
<line x1="1106.9" y1="1376.28" x2="1123.9" y2="1376.28" stroke="#000" stroke-width="2"/>
<line x1="1115.4" y1="1344.65" x2="1115.4" y2="1367.72" stroke="#000" stroke-width="2"/>
<line x1="1106.9" y1="1344.65" x2="1123.9" y2="1344.65" stroke="#000" stroke-width="2"/>
<line x1="1106.9" y1="1367.72" x2="1123.9" y2="1367.72" stroke="#000" stroke-width="2"/>
<line x1="1115.4" y1="1429" x2="1115.4" y2="1436.91" stroke="#000" stroke-width="2"/>
<line x1="1106.9" y1="1429" x2="1123.9" y2="1429" stroke="#000" stroke-width="2"/>
<line x1="1106.9" y1="1436.91" x2="1123.9" y2="1436.91" stroke="#000" stroke-width="2"/>
<line x1="1115.4" y1="1472.83" x2="1115.4" y2="1514.34" stroke="#000" stroke-width="2"/>
<line x1="1106.9" y1="1472.83" x2="1123.9" y2="1472.83" stroke="#000" stroke-width="2"/>
<line x1="1106.9" y1="1514.34" x2="1123.9" y2="1514.34" stroke="#000" stroke-width="2"/>
<line x1="1234.3" y1="1422.08" x2="1234.3" y2="1441.19" stroke="#000" stroke-width="2"/>
<line x1="1225.8" y1="1422.08" x2="1242.8" y2="1422.08" stroke="#000" stroke-width="2"/>
<line x1="1225.8" y1="1441.19" x2="1242.8" y2="1441.19" stroke="#000" stroke-width="2"/>
<line x1="1234.3" y1="1430.32" x2="1234.3" y2="1467.55" stroke="#000" stroke-width="2"/>
<line x1="1225.8" y1="1430.32" x2="1242.8" y2="1430.32" stroke="#000" stroke-width="2"/>
<line x1="1225.8" y1="1467.55" x2="1242.8" y2="1467.55" stroke="#000" stroke-width="2"/>
<line x1="1234.3" y1="1525.55" x2="1234.3" y2="1546.96" stroke="#000" stroke-width="2"/>
<line x1="1225.8" y1="1525.55" x2="1242.8" y2="1525.55" stroke="#000" stroke-width="2"/>
<line x1="1225.8" y1="1546.96" x2="1242.8" y2="1546.96" stroke="#000" stroke-width="2"/>
<line x1="1234.3" y1="1548.94" x2="1234.3" y2="1594.08" stroke="#000" stroke-width="2"/>
<line x1="1225.8" y1="1548.94" x2="1242.8" y2="1548.94" stroke="#000" stroke-width="2"/>
<line x1="1225.8" y1="1594.08" x2="1242.8" y2="1594.08" stroke="#000" stroke-width="2"/>
<line x1="1353.2" y1="1555.53" x2="1353.2" y2="1583.87" stroke="#000" stroke-width="2"/>
<line x1="1344.7" y1="1555.53" x2="1361.7" y2="1555.53" stroke="#000" stroke-width="2"/>
<line x1="1344.7" y1="1583.87" x2="1361.7" y2="1583.87" stroke="#000" stroke-width="2"/>
<line x1="1353.2" y1="1587.82" x2="1353.2" y2="1601" stroke="#000" stroke-width="2"/>
<line x1="1344.7" y1="1587.82" x2="1361.7" y2="1587.82" stroke="#000" stroke-width="2"/>
<line x1="1344.7" y1="1601" x2="1361.7" y2="1601" stroke="#000" stroke-width="2"/>
<line x1="1353.2" y1="1630.66" x2="1353.2" y2="1637.25" stroke="#000" stroke-width="2"/>
<line x1="1344.7" y1="1630.66" x2="1361.7" y2="1630.66" stroke="#000" stroke-width="2"/>
<line x1="1344.7" y1="1637.25" x2="1361.7" y2="1637.25" stroke="#000" stroke-width="2"/>
<line x1="1353.2" y1="1624.73" x2="1353.2" y2="1632.96" stroke="#000" stroke-width="2"/>
<line x1="1344.7" y1="1624.73" x2="1361.7" y2="1624.73" stroke="#000" stroke-width="2"/>
<line x1="1344.7" y1="1632.96" x2="1361.7" y2="1632.96" stroke="#000" stroke-width="2"/>
<line x1="1472.1" y1="1632.96" x2="1472.1" y2="1639.55" stroke="#000" stroke-width="2"/>
<line x1="1463.6" y1="1632.96" x2="1480.6" y2="1632.96" stroke="#000" stroke-width="2"/>
<line x1="1463.6" y1="1639.55" x2="1480.6" y2="1639.55" stroke="#000" stroke-width="2"/>
<line x1="1472.1" y1="1635.27" x2="1472.1" y2="1640.21" stroke="#000" stroke-width="2"/>
<line x1="1463.6" y1="1635.27" x2="1480.6" y2="1635.27" stroke="#000" stroke-width="2"/>
<line x1="1463.6" y1="1640.21" x2="1480.6" y2="1640.21" stroke="#000" stroke-width="2"/>
<line x1="1472.1" y1="1614.84" x2="1472.1" y2="1626.7" stroke="#000" stroke-width="2"/>
<line x1="1463.6" y1="1614.84" x2="1480.6" y2="1614.84" stroke="#000" stroke-width="2"/>
<line x1="1463.6" y1="1626.7" x2="1480.6" y2="1626.7" stroke="#000" stroke-width="2"/>
<line x1="1472.1" y1="1637.9" x2="1472.1" y2="1641.2" stroke="#000" stroke-width="2"/>
<line x1="1463.6" y1="1637.9" x2="1480.6" y2="1637.9" stroke="#000" stroke-width="2"/>
<line x1="1463.6" y1="1641.2" x2="1480.6" y2="1641.2" stroke="#000" stroke-width="2"/>
<polygon points="869.6,1303.7 885.6,1303.7 877.6,1319.7" fill="#000"/>
<circle cx="877.6" cy="1311.7" r="7.8" fill="#000"/>
<polygon points="877.6,1303.7 885.6,1319.7 869.6,1319.7" fill="#000"/>
<rect x="869.6" y="1303.7" width="16" height="16" fill="#000"/>
<polygon points="988.5,1293.82 1004.5,1293.82 996.5,1309.82" fill="#000"/>
<circle cx="996.5" cy="1311.37" r="7.8" fill="#000"/>
<rect x="988.5" y="1361.69" width="16" height="16" fill="#000"/>
<polygon points="996.5,1446.04 1004.5,1462.04 988.5,1462.04" fill="#000"/>
<circle cx="1115.4" cy="1364.09" r="7.8" fill="#000"/>
<polygon points="1107.4,1347.85 1123.4,1347.85 1115.4,1363.85" fill="#000"/>
<rect x="1107.4" y="1424.96" width="16" height="16" fill="#000"/>
<polygon points="1115.4,1486.57 1123.4,1502.57 1107.4,1502.57" fill="#000"/>
<circle cx="1234.3" cy="1436.25" r="7.8" fill="#000"/>
<polygon points="1226.3,1433.85 1242.3,1433.85 1234.3,1449.85" fill="#000"/>
<rect x="1226.3" y="1528.09" width="16" height="16" fill="#000"/>
<polygon points="1234.3,1558.73 1242.3,1574.73 1226.3,1574.73" fill="#000"/>
<polygon points="1345.2,1561.7 1361.2,1561.7 1353.2,1577.7" fill="#000"/>
<circle cx="1353.2" cy="1594.74" r="7.8" fill="#000"/>
<rect x="1345.2" y="1625.95" width="16" height="16" fill="#000"/>
<polygon points="1353.2,1621.01 1361.2,1637.01 1345.2,1637.01" fill="#000"/>
<polygon points="1464.1,1628.26 1480.1,1628.26 1472.1,1644.26" fill="#000"/>
<polygon points="1472.1,1629.9 1480.1,1645.9 1464.1,1645.9" fill="#000"/>
<circle cx="1472.1" cy="1621.1" r="7.8" fill="#000"/>
<rect x="1464.1" y="1631.88" width="16" height="16" fill="#000"/>
<line x1="1251" y1="1269.8" x2="1295.3" y2="1269.8" stroke="#000" stroke-width="2.4"/>
<circle cx="1273.15" cy="1269.8" r="7.8" fill="#000"/>
<text transform="translate(1318.8 1281) scale(1 1.05)" font-size="32" text-anchor="start" fill="#000" stroke="#000" stroke-width="0.5">VC</text>
<line x1="1251" y1="1305" x2="1295.3" y2="1305" stroke="#414f9c" stroke-width="2.4"/>
<polygon points="1265.15,1297 1281.15,1297 1273.15,1313" fill="#000"/>
<text transform="translate(1319.5 1316.2) scale(1 1.05)" font-size="32" text-anchor="start" fill="#000" stroke="#000" stroke-width="0.5">EXO1+N4</text>
<line x1="885.1" y1="1577" x2="929" y2="1577" stroke="#d98b2b" stroke-width="2.4"/>
<rect x="899.05" y="1569" width="16" height="16" fill="#000"/>
<text transform="translate(953 1588.2) scale(1 1.05)" font-size="32" text-anchor="start" fill="#000" stroke="#000" stroke-width="0.5">EXO1</text>
<line x1="885.1" y1="1613.2" x2="929" y2="1613.2" stroke="#a35aa0" stroke-width="2.4"/>
<polygon points="907.05,1605.2 915.05,1621.2 899.05,1621.2" fill="#000"/>
<text transform="translate(953 1624.4) scale(1 1.05)" font-size="32" text-anchor="start" fill="#000" stroke="#000" stroke-width="0.5">N4BP2L2</text>
<text transform="translate(803 1443.3) rotate(-90) scale(1 1.05)" font-size="32" text-anchor="middle" fill="#000" stroke="#000" stroke-width="0.5">% survival</text>
<text transform="translate(1175 1727) scale(1 1.05)" font-size="32.3" text-anchor="middle" fill="#000" stroke="#000" stroke-width="0.5">Olaparib(<tspan font-style="italic">&#956;</tspan>M)</text>
</svg>
</body></html>
